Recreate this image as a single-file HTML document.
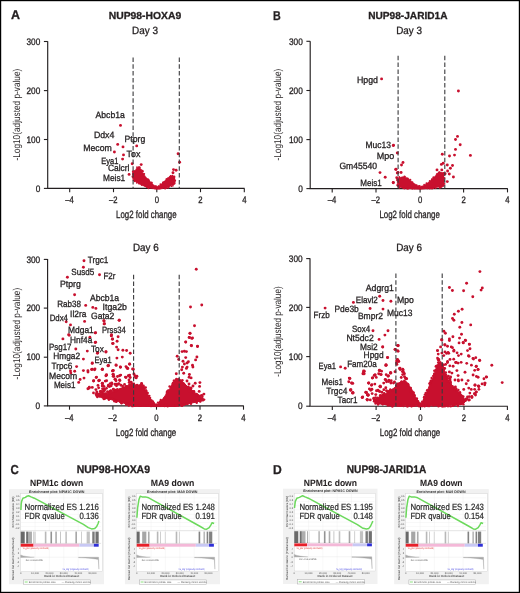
<!DOCTYPE html>
<html><head><meta charset="utf-8"><style>
html,body{margin:0;padding:0;background:#fff;}
body{width:520px;height:593px;overflow:hidden;position:relative;}
svg{position:absolute;left:0;top:0;will-change:transform;font-family:"Liberation Sans",sans-serif;text-rendering:geometricPrecision;}
</style></head><body>
<svg width="520" height="593" viewBox="0 0 520 593">
<rect x="0" y="0" width="520" height="593" fill="#fff"/>
<text x="11" y="19.3" font-size="12.9" text-anchor="start" font-weight="bold" fill="#231f20" stroke="#231f20" stroke-width="0.3" textLength="9" lengthAdjust="spacingAndGlyphs" >A</text>
<text x="273" y="19.5" font-size="12.9" text-anchor="start" font-weight="bold" fill="#231f20" stroke="#231f20" stroke-width="0.3" textLength="7.75" lengthAdjust="spacingAndGlyphs" >B</text>
<text x="10.5" y="473.75" font-size="12.9" text-anchor="start" font-weight="bold" fill="#231f20" stroke="#231f20" stroke-width="0.3" textLength="8.25" lengthAdjust="spacingAndGlyphs" >C</text>
<text x="273" y="473.75" font-size="12.9" text-anchor="start" font-weight="bold" fill="#231f20" stroke="#231f20" stroke-width="0.3" textLength="8.75" lengthAdjust="spacingAndGlyphs" >D</text>
<text x="108.75" y="18.75" font-size="10.2" text-anchor="start" font-weight="bold" fill="#231f20" stroke="#231f20" stroke-width="0.3" textLength="72.5" lengthAdjust="spacingAndGlyphs" >NUP98-HOXA9</text>
<text x="368.25" y="18.75" font-size="10.2" text-anchor="start" font-weight="bold" fill="#231f20" stroke="#231f20" stroke-width="0.3" textLength="79.25" lengthAdjust="spacingAndGlyphs" >NUP98-JARID1A</text>
<text x="132" y="33.6" font-size="10.5" text-anchor="start" font-weight="normal" fill="#231f20" stroke="#231f20" stroke-width="0.3" textLength="26" lengthAdjust="spacingAndGlyphs" >Day 3</text>
<text x="396.25" y="33.6" font-size="10.5" text-anchor="start" font-weight="normal" fill="#231f20" stroke="#231f20" stroke-width="0.3" textLength="25.75" lengthAdjust="spacingAndGlyphs" >Day 3</text>
<text x="132.9" y="251.4" font-size="10.5" text-anchor="start" font-weight="normal" fill="#231f20" stroke="#231f20" stroke-width="0.3" textLength="25.8" lengthAdjust="spacingAndGlyphs" >Day 6</text>
<text x="396.2" y="251.4" font-size="10.5" text-anchor="start" font-weight="normal" fill="#231f20" stroke="#231f20" stroke-width="0.3" textLength="25.8" lengthAdjust="spacingAndGlyphs" >Day 6</text>
<text x="76.75" y="473" font-size="10.9" text-anchor="start" font-weight="bold" fill="#231f20" stroke="#231f20" stroke-width="0.3" textLength="73.25" lengthAdjust="spacingAndGlyphs" >NUP98-HOXA9</text>
<text x="346.75" y="473" font-size="10.9" text-anchor="start" font-weight="bold" fill="#231f20" stroke="#231f20" stroke-width="0.3" textLength="79.5" lengthAdjust="spacingAndGlyphs" >NUP98-JARID1A</text>
<text x="30" y="485.5" font-size="9.1" text-anchor="start" font-weight="bold" fill="#231f20" stroke="#231f20" stroke-width="0.05" textLength="53.25" lengthAdjust="spacingAndGlyphs" >NPM1c down</text>
<text x="150.75" y="485.5" font-size="9.1" text-anchor="start" font-weight="bold" fill="#231f20" stroke="#231f20" stroke-width="0.05" textLength="43.5" lengthAdjust="spacingAndGlyphs" >MA9 down</text>
<text x="303.75" y="485.5" font-size="9.1" text-anchor="start" font-weight="bold" fill="#231f20" stroke="#231f20" stroke-width="0.05" textLength="53.25" lengthAdjust="spacingAndGlyphs" >NPM1c down</text>
<text x="420" y="485.5" font-size="9.1" text-anchor="start" font-weight="bold" fill="#231f20" stroke="#231f20" stroke-width="0.05" textLength="42.5" lengthAdjust="spacingAndGlyphs" >MA9 down</text>
<path d="M47.7,41.2 V188.4 H244.6" fill="none" stroke="#231f20" stroke-width="1.15"/>
<line x1="43.900000000000006" y1="41.5" x2="47.7" y2="41.5" stroke="#231f20" stroke-width="1.1"/>
<text x="40.3" y="44.7" font-size="9.45" text-anchor="end" font-weight="normal" fill="#231f20" stroke="#231f20" stroke-width="0.3" textLength="13.8" lengthAdjust="spacingAndGlyphs" >300</text>
<line x1="43.900000000000006" y1="90.6" x2="47.7" y2="90.6" stroke="#231f20" stroke-width="1.1"/>
<text x="40.3" y="93.8" font-size="9.45" text-anchor="end" font-weight="normal" fill="#231f20" stroke="#231f20" stroke-width="0.3" textLength="13.8" lengthAdjust="spacingAndGlyphs" >200</text>
<line x1="43.900000000000006" y1="139.5" x2="47.7" y2="139.5" stroke="#231f20" stroke-width="1.1"/>
<text x="40.3" y="142.7" font-size="9.45" text-anchor="end" font-weight="normal" fill="#231f20" stroke="#231f20" stroke-width="0.3" textLength="13.8" lengthAdjust="spacingAndGlyphs" >100</text>
<line x1="43.900000000000006" y1="188.4" x2="47.7" y2="188.4" stroke="#231f20" stroke-width="1.1"/>
<text x="40.3" y="191.6" font-size="9.45" text-anchor="end" font-weight="normal" fill="#231f20" stroke="#231f20" stroke-width="0.3" textLength="4.6" lengthAdjust="spacingAndGlyphs" >0</text>
<line x1="69.7" y1="188.4" x2="69.7" y2="192.20000000000002" stroke="#231f20" stroke-width="1.1"/>
<text x="65.25" y="203.0" font-size="9.45" text-anchor="start" font-weight="normal" fill="#231f20" stroke="#231f20" stroke-width="0.3" textLength="8.5" lengthAdjust="spacingAndGlyphs" >–4</text>
<line x1="113.5" y1="188.4" x2="113.5" y2="192.20000000000002" stroke="#231f20" stroke-width="1.1"/>
<text x="109.05" y="203.0" font-size="9.45" text-anchor="start" font-weight="normal" fill="#231f20" stroke="#231f20" stroke-width="0.3" textLength="8.5" lengthAdjust="spacingAndGlyphs" >–2</text>
<line x1="156.8" y1="188.4" x2="156.8" y2="192.20000000000002" stroke="#231f20" stroke-width="1.1"/>
<text x="154.65" y="203.0" font-size="9.45" text-anchor="start" font-weight="normal" fill="#231f20" stroke="#231f20" stroke-width="0.3" textLength="4.3" lengthAdjust="spacingAndGlyphs" >0</text>
<line x1="200.5" y1="188.4" x2="200.5" y2="192.20000000000002" stroke="#231f20" stroke-width="1.1"/>
<text x="198.35" y="203.0" font-size="9.45" text-anchor="start" font-weight="normal" fill="#231f20" stroke="#231f20" stroke-width="0.3" textLength="4.3" lengthAdjust="spacingAndGlyphs" >2</text>
<line x1="244.3" y1="188.4" x2="244.3" y2="192.20000000000002" stroke="#231f20" stroke-width="1.1"/>
<text x="242.15" y="203.0" font-size="9.45" text-anchor="start" font-weight="normal" fill="#231f20" stroke="#231f20" stroke-width="0.3" textLength="4.3" lengthAdjust="spacingAndGlyphs" >4</text>
<polygon points="132.8,173.9 134.3,171.7 136.5,168 138.6,167 140.7,168.6 141.7,171.7 143.9,173.9 146,177 149.2,180.2 153.4,184.4 156.6,186.8 159.7,185.2 164,181.3 168.2,177.6 170.3,175.5 172.4,176 174.5,177.6 175.6,180.2 175,184 168.2,187.5 159.7,189.4 156.6,189.6 149.2,188.2 140.7,185 134.3,181 132.8,178" fill="#c8102e" stroke="#c8102e" stroke-width="0.3" stroke-linejoin="round"/>
<circle cx="132.94" cy="173.34" r="0.85" fill="#c8102e"/>
<circle cx="134.50" cy="171.30" r="0.85" fill="#c8102e"/>
<circle cx="134.44" cy="171.02" r="0.85" fill="#c8102e"/>
<circle cx="136.98" cy="167.16" r="0.85" fill="#c8102e"/>
<circle cx="139.82" cy="167.30" r="0.85" fill="#c8102e"/>
<circle cx="141.05" cy="169.74" r="0.85" fill="#c8102e"/>
<circle cx="142.87" cy="173.45" r="0.85" fill="#c8102e"/>
<circle cx="144.36" cy="173.83" r="0.85" fill="#c8102e"/>
<circle cx="143.82" cy="174.16" r="0.85" fill="#c8102e"/>
<circle cx="148.29" cy="179.69" r="0.85" fill="#c8102e"/>
<circle cx="147.92" cy="179.09" r="0.85" fill="#c8102e"/>
<circle cx="149.02" cy="180.17" r="0.85" fill="#c8102e"/>
<circle cx="151.99" cy="182.87" r="0.85" fill="#c8102e"/>
<circle cx="151.61" cy="182.46" r="0.85" fill="#c8102e"/>
<circle cx="156.14" cy="186.05" r="0.85" fill="#c8102e"/>
<circle cx="155.26" cy="186.15" r="0.85" fill="#c8102e"/>
<circle cx="158.65" cy="186.11" r="0.85" fill="#c8102e"/>
<circle cx="156.88" cy="186.87" r="0.85" fill="#c8102e"/>
<circle cx="160.34" cy="184.15" r="0.85" fill="#c8102e"/>
<circle cx="162.84" cy="182.67" r="0.85" fill="#c8102e"/>
<circle cx="163.28" cy="181.98" r="0.85" fill="#c8102e"/>
<circle cx="166.58" cy="179.06" r="0.85" fill="#c8102e"/>
<circle cx="167.97" cy="178.17" r="0.85" fill="#c8102e"/>
<circle cx="166.35" cy="179.04" r="0.85" fill="#c8102e"/>
<circle cx="170.05" cy="176.56" r="0.85" fill="#c8102e"/>
<circle cx="170.78" cy="175.81" r="0.85" fill="#c8102e"/>
<circle cx="172.41" cy="175.70" r="0.85" fill="#c8102e"/>
<circle cx="174.19" cy="178.17" r="0.85" fill="#c8102e"/>
<circle cx="175.27" cy="180.58" r="0.85" fill="#c8102e"/>
<circle cx="174.66" cy="183.46" r="0.85" fill="#c8102e"/>
<circle cx="171.65" cy="186.24" r="0.85" fill="#c8102e"/>
<circle cx="168.90" cy="186.94" r="0.85" fill="#c8102e"/>
<circle cx="172.94" cy="185.71" r="0.85" fill="#c8102e"/>
<circle cx="173.65" cy="184.26" r="0.85" fill="#c8102e"/>
<circle cx="166.20" cy="188.03" r="0.85" fill="#c8102e"/>
<circle cx="165.47" cy="187.92" r="0.85" fill="#c8102e"/>
<circle cx="165.13" cy="188.65" r="0.85" fill="#c8102e"/>
<circle cx="162.35" cy="187.59" r="0.85" fill="#c8102e"/>
<circle cx="168.14" cy="187.88" r="0.85" fill="#c8102e"/>
<circle cx="157.29" cy="187.92" r="0.85" fill="#c8102e"/>
<circle cx="155.97" cy="188.32" r="0.85" fill="#c8102e"/>
<circle cx="154.72" cy="188.34" r="0.85" fill="#c8102e"/>
<circle cx="156.25" cy="187.96" r="0.85" fill="#c8102e"/>
<circle cx="156.79" cy="188.22" r="0.85" fill="#c8102e"/>
<circle cx="146.90" cy="187.26" r="0.85" fill="#c8102e"/>
<circle cx="148.50" cy="188.30" r="0.85" fill="#c8102e"/>
<circle cx="145.22" cy="186.29" r="0.85" fill="#c8102e"/>
<circle cx="148.17" cy="187.64" r="0.85" fill="#c8102e"/>
<circle cx="141.82" cy="185.07" r="0.85" fill="#c8102e"/>
<circle cx="134.64" cy="180.84" r="0.85" fill="#c8102e"/>
<circle cx="136.75" cy="182.86" r="0.85" fill="#c8102e"/>
<circle cx="134.80" cy="181.28" r="0.85" fill="#c8102e"/>
<circle cx="138.90" cy="183.62" r="0.85" fill="#c8102e"/>
<circle cx="133.17" cy="178.96" r="0.85" fill="#c8102e"/>
<circle cx="133.53" cy="180.32" r="0.85" fill="#c8102e"/>
<circle cx="133.15" cy="174.27" r="0.85" fill="#c8102e"/>
<circle cx="133.04" cy="174.37" r="0.85" fill="#c8102e"/>
<circle cx="120.5" cy="125.4" r="1.45" fill="#c8102e"/>
<circle cx="117.7" cy="144.4" r="1.45" fill="#c8102e"/>
<circle cx="123" cy="146.9" r="1.45" fill="#c8102e"/>
<circle cx="136.7" cy="145.9" r="1.45" fill="#c8102e"/>
<circle cx="114.4" cy="152" r="1.45" fill="#c8102e"/>
<circle cx="123.5" cy="154.9" r="1.45" fill="#c8102e"/>
<circle cx="122.6" cy="159.1" r="1.45" fill="#c8102e"/>
<circle cx="132.2" cy="163.8" r="1.45" fill="#c8102e"/>
<circle cx="141.2" cy="164.6" r="1.45" fill="#c8102e"/>
<circle cx="129.1" cy="174.4" r="1.45" fill="#c8102e"/>
<circle cx="133" cy="176.8" r="1.45" fill="#c8102e"/>
<circle cx="133.3" cy="171.7" r="1.45" fill="#c8102e"/>
<circle cx="142.3" cy="171.2" r="1.45" fill="#c8102e"/>
<circle cx="179.6" cy="162.2" r="1.45" fill="#c8102e"/>
<circle cx="173.5" cy="169.6" r="1.45" fill="#c8102e"/>
<circle cx="176.1" cy="170.2" r="1.45" fill="#c8102e"/>
<circle cx="173" cy="172.8" r="1.45" fill="#c8102e"/>
<circle cx="174" cy="177" r="1.45" fill="#c8102e"/>
<circle cx="178.1" cy="153.75" r="1.45" fill="#c8102e"/>
<circle cx="139" cy="167.75" r="1.45" fill="#c8102e"/>
<line x1="133.1" y1="57.5" x2="133.1" y2="188.4" stroke="#3a3a3c" stroke-width="1.1" stroke-dasharray="4.5 2.3"/>
<line x1="179.3" y1="57.5" x2="179.3" y2="188.4" stroke="#3a3a3c" stroke-width="1.1" stroke-dasharray="4.5 2.3"/>
<text x="116.1" y="217.7" font-size="10.6" text-anchor="start" font-weight="normal" fill="#231f20" stroke="#231f20" stroke-width="0.3" textLength="60.5" lengthAdjust="spacingAndGlyphs" >Log2 fold change</text>
<text transform="translate(19.9,114.6) rotate(-90)" x="0" y="0" font-size="10" text-anchor="middle" fill="#231f20" textLength="91.8" lengthAdjust="spacingAndGlyphs">-Log10(adjusted p-value)</text>
<text x="95.5" y="117.6" font-size="9.15" text-anchor="start" font-weight="normal" fill="#231f20" stroke="#231f20" stroke-width="0.3" textLength="29.3" lengthAdjust="spacingAndGlyphs" >Abcb1a</text>
<text x="93.9" y="138" font-size="9.15" text-anchor="start" font-weight="normal" fill="#231f20" stroke="#231f20" stroke-width="0.3" textLength="20.5" lengthAdjust="spacingAndGlyphs" >Ddx4</text>
<text x="124.5" y="142" font-size="9.15" text-anchor="start" font-weight="normal" fill="#231f20" stroke="#231f20" stroke-width="0.3" textLength="20.8" lengthAdjust="spacingAndGlyphs" >Ptprg</text>
<text x="83.2" y="150.9" font-size="9.15" text-anchor="start" font-weight="normal" fill="#231f20" stroke="#231f20" stroke-width="0.3" textLength="28.6" lengthAdjust="spacingAndGlyphs" >Mecom</text>
<text x="126.6" y="157.4" font-size="9.15" text-anchor="start" font-weight="normal" fill="#231f20" stroke="#231f20" stroke-width="0.3" textLength="13.9" lengthAdjust="spacingAndGlyphs" >Tox</text>
<text x="101.2" y="163.8" font-size="9.15" text-anchor="start" font-weight="normal" fill="#231f20" stroke="#231f20" stroke-width="0.3" textLength="17.2" lengthAdjust="spacingAndGlyphs" >Eya1</text>
<text x="108" y="171" font-size="9.15" text-anchor="start" font-weight="normal" fill="#231f20" stroke="#231f20" stroke-width="0.3" textLength="21.5" lengthAdjust="spacingAndGlyphs" >Calcrl</text>
<text x="103" y="180.6" font-size="9.15" text-anchor="start" font-weight="normal" fill="#231f20" stroke="#231f20" stroke-width="0.3" textLength="22.2" lengthAdjust="spacingAndGlyphs" >Meis1</text>
<path d="M310.2,41.2 V188.6 H507.8" fill="none" stroke="#231f20" stroke-width="1.15"/>
<line x1="306.4" y1="41.3" x2="310.2" y2="41.3" stroke="#231f20" stroke-width="1.1"/>
<text x="302.8" y="44.5" font-size="9.45" text-anchor="end" font-weight="normal" fill="#231f20" stroke="#231f20" stroke-width="0.3" textLength="13.8" lengthAdjust="spacingAndGlyphs" >300</text>
<line x1="306.4" y1="90.5" x2="310.2" y2="90.5" stroke="#231f20" stroke-width="1.1"/>
<text x="302.8" y="93.7" font-size="9.45" text-anchor="end" font-weight="normal" fill="#231f20" stroke="#231f20" stroke-width="0.3" textLength="13.8" lengthAdjust="spacingAndGlyphs" >200</text>
<line x1="306.4" y1="139.6" x2="310.2" y2="139.6" stroke="#231f20" stroke-width="1.1"/>
<text x="302.8" y="142.8" font-size="9.45" text-anchor="end" font-weight="normal" fill="#231f20" stroke="#231f20" stroke-width="0.3" textLength="13.8" lengthAdjust="spacingAndGlyphs" >100</text>
<line x1="306.4" y1="188.6" x2="310.2" y2="188.6" stroke="#231f20" stroke-width="1.1"/>
<text x="302.8" y="191.8" font-size="9.45" text-anchor="end" font-weight="normal" fill="#231f20" stroke="#231f20" stroke-width="0.3" textLength="4.6" lengthAdjust="spacingAndGlyphs" >0</text>
<line x1="332.2" y1="188.6" x2="332.2" y2="192.4" stroke="#231f20" stroke-width="1.1"/>
<text x="327.75" y="203.2" font-size="9.45" text-anchor="start" font-weight="normal" fill="#231f20" stroke="#231f20" stroke-width="0.3" textLength="8.5" lengthAdjust="spacingAndGlyphs" >–4</text>
<line x1="376.0" y1="188.6" x2="376.0" y2="192.4" stroke="#231f20" stroke-width="1.1"/>
<text x="371.55" y="203.2" font-size="9.45" text-anchor="start" font-weight="normal" fill="#231f20" stroke="#231f20" stroke-width="0.3" textLength="8.5" lengthAdjust="spacingAndGlyphs" >–2</text>
<line x1="420.1" y1="188.6" x2="420.1" y2="192.4" stroke="#231f20" stroke-width="1.1"/>
<text x="417.95" y="203.2" font-size="9.45" text-anchor="start" font-weight="normal" fill="#231f20" stroke="#231f20" stroke-width="0.3" textLength="4.3" lengthAdjust="spacingAndGlyphs" >0</text>
<line x1="463.6" y1="188.6" x2="463.6" y2="192.4" stroke="#231f20" stroke-width="1.1"/>
<text x="461.45" y="203.2" font-size="9.45" text-anchor="start" font-weight="normal" fill="#231f20" stroke="#231f20" stroke-width="0.3" textLength="4.3" lengthAdjust="spacingAndGlyphs" >2</text>
<line x1="507.5" y1="188.6" x2="507.5" y2="192.4" stroke="#231f20" stroke-width="1.1"/>
<text x="505.35" y="203.2" font-size="9.45" text-anchor="start" font-weight="normal" fill="#231f20" stroke="#231f20" stroke-width="0.3" textLength="4.3" lengthAdjust="spacingAndGlyphs" >4</text>
<polygon points="397,180 399,177.5 403,176.4 407,177.5 410,179.8 412.5,182 415,183.8 417.5,185.4 420,186.2 422.5,185.7 425,184.4 427.5,182.7 430,180.7 433,177.9 435.4,175.4 437,173.2 440,171.7 443.5,173.2 444.5,180 444,186.5 432,188.6 420,189.5 405,188.8 397.5,187" fill="#c8102e" stroke="#c8102e" stroke-width="0.3" stroke-linejoin="round"/>
<circle cx="397.30" cy="179.34" r="0.85" fill="#c8102e"/>
<circle cx="399.33" cy="177.29" r="0.85" fill="#c8102e"/>
<circle cx="399.24" cy="176.97" r="0.85" fill="#c8102e"/>
<circle cx="404.30" cy="176.47" r="0.85" fill="#c8102e"/>
<circle cx="405.02" cy="176.49" r="0.85" fill="#c8102e"/>
<circle cx="407.80" cy="178.46" r="0.85" fill="#c8102e"/>
<circle cx="408.63" cy="179.30" r="0.85" fill="#c8102e"/>
<circle cx="410.47" cy="179.69" r="0.85" fill="#c8102e"/>
<circle cx="412.48" cy="182.07" r="0.85" fill="#c8102e"/>
<circle cx="416.72" cy="185.19" r="0.85" fill="#c8102e"/>
<circle cx="418.97" cy="185.96" r="0.85" fill="#c8102e"/>
<circle cx="419.72" cy="185.87" r="0.85" fill="#c8102e"/>
<circle cx="424.13" cy="184.63" r="0.85" fill="#c8102e"/>
<circle cx="426.42" cy="183.20" r="0.85" fill="#c8102e"/>
<circle cx="429.68" cy="180.86" r="0.85" fill="#c8102e"/>
<circle cx="431.75" cy="179.47" r="0.85" fill="#c8102e"/>
<circle cx="431.98" cy="179.14" r="0.85" fill="#c8102e"/>
<circle cx="433.20" cy="177.86" r="0.85" fill="#c8102e"/>
<circle cx="433.35" cy="177.06" r="0.85" fill="#c8102e"/>
<circle cx="436.73" cy="174.00" r="0.85" fill="#c8102e"/>
<circle cx="439.44" cy="172.08" r="0.85" fill="#c8102e"/>
<circle cx="438.86" cy="172.26" r="0.85" fill="#c8102e"/>
<circle cx="443.38" cy="172.93" r="0.85" fill="#c8102e"/>
<circle cx="441.89" cy="172.90" r="0.85" fill="#c8102e"/>
<circle cx="444.64" cy="177.92" r="0.85" fill="#c8102e"/>
<circle cx="443.67" cy="175.30" r="0.85" fill="#c8102e"/>
<circle cx="443.48" cy="173.02" r="0.85" fill="#c8102e"/>
<circle cx="443.18" cy="174.26" r="0.85" fill="#c8102e"/>
<circle cx="444.18" cy="180.73" r="0.85" fill="#c8102e"/>
<circle cx="443.64" cy="185.61" r="0.85" fill="#c8102e"/>
<circle cx="444.61" cy="183.89" r="0.85" fill="#c8102e"/>
<circle cx="433.41" cy="188.23" r="0.85" fill="#c8102e"/>
<circle cx="440.08" cy="187.71" r="0.85" fill="#c8102e"/>
<circle cx="441.87" cy="186.55" r="0.85" fill="#c8102e"/>
<circle cx="441.18" cy="187.08" r="0.85" fill="#c8102e"/>
<circle cx="440.35" cy="186.97" r="0.85" fill="#c8102e"/>
<circle cx="439.64" cy="187.73" r="0.85" fill="#c8102e"/>
<circle cx="435.73" cy="188.07" r="0.85" fill="#c8102e"/>
<circle cx="423.44" cy="187.66" r="0.85" fill="#c8102e"/>
<circle cx="421.80" cy="188.12" r="0.85" fill="#c8102e"/>
<circle cx="430.89" cy="188.26" r="0.85" fill="#c8102e"/>
<circle cx="430.90" cy="188.32" r="0.85" fill="#c8102e"/>
<circle cx="427.47" cy="188.41" r="0.85" fill="#c8102e"/>
<circle cx="429.79" cy="188.60" r="0.85" fill="#c8102e"/>
<circle cx="432.07" cy="188.74" r="0.85" fill="#c8102e"/>
<circle cx="417.52" cy="188.16" r="0.85" fill="#c8102e"/>
<circle cx="418.51" cy="188.04" r="0.85" fill="#c8102e"/>
<circle cx="412.33" cy="188.76" r="0.85" fill="#c8102e"/>
<circle cx="414.63" cy="188.41" r="0.85" fill="#c8102e"/>
<circle cx="420.10" cy="188.42" r="0.85" fill="#c8102e"/>
<circle cx="411.38" cy="187.43" r="0.85" fill="#c8102e"/>
<circle cx="407.25" cy="188.66" r="0.85" fill="#c8102e"/>
<circle cx="414.17" cy="187.96" r="0.85" fill="#c8102e"/>
<circle cx="408.14" cy="188.68" r="0.85" fill="#c8102e"/>
<circle cx="399.40" cy="187.69" r="0.85" fill="#c8102e"/>
<circle cx="399.27" cy="187.59" r="0.85" fill="#c8102e"/>
<circle cx="403.32" cy="188.25" r="0.85" fill="#c8102e"/>
<circle cx="404.31" cy="188.53" r="0.85" fill="#c8102e"/>
<circle cx="397.56" cy="185.64" r="0.85" fill="#c8102e"/>
<circle cx="397.71" cy="184.36" r="0.85" fill="#c8102e"/>
<circle cx="396.89" cy="180.04" r="0.85" fill="#c8102e"/>
<circle cx="397.08" cy="185.12" r="0.85" fill="#c8102e"/>
<circle cx="381.6" cy="78.9" r="1.45" fill="#c8102e"/>
<circle cx="393.5" cy="145.3" r="1.45" fill="#c8102e"/>
<circle cx="397.3" cy="153" r="1.45" fill="#c8102e"/>
<circle cx="380" cy="172.6" r="1.45" fill="#c8102e"/>
<circle cx="385.2" cy="177.3" r="1.45" fill="#c8102e"/>
<circle cx="396" cy="169.2" r="1.45" fill="#c8102e"/>
<circle cx="397.3" cy="173" r="1.45" fill="#c8102e"/>
<circle cx="393.3" cy="182.8" r="1.45" fill="#c8102e"/>
<circle cx="393.25" cy="145.6" r="1.45" fill="#c8102e"/>
<circle cx="403" cy="162.5" r="1.45" fill="#c8102e"/>
<circle cx="401.5" cy="165" r="1.45" fill="#c8102e"/>
<circle cx="395.75" cy="169.4" r="1.45" fill="#c8102e"/>
<circle cx="398" cy="172.5" r="1.45" fill="#c8102e"/>
<circle cx="401.1" cy="172.5" r="1.45" fill="#c8102e"/>
<circle cx="396.75" cy="177.75" r="1.45" fill="#c8102e"/>
<circle cx="393.25" cy="182.5" r="1.45" fill="#c8102e"/>
<circle cx="458.4" cy="91" r="1.45" fill="#c8102e"/>
<circle cx="457.5" cy="136.4" r="1.45" fill="#c8102e"/>
<circle cx="455.5" cy="139.5" r="1.45" fill="#c8102e"/>
<circle cx="460.2" cy="144.7" r="1.45" fill="#c8102e"/>
<circle cx="455.5" cy="149.4" r="1.45" fill="#c8102e"/>
<circle cx="442.3" cy="154.2" r="1.45" fill="#c8102e"/>
<circle cx="449.5" cy="156" r="1.45" fill="#c8102e"/>
<circle cx="454.5" cy="155.1" r="1.45" fill="#c8102e"/>
<circle cx="470.4" cy="155.4" r="1.45" fill="#c8102e"/>
<circle cx="441.4" cy="164.4" r="1.45" fill="#c8102e"/>
<circle cx="443.2" cy="163.3" r="1.45" fill="#c8102e"/>
<circle cx="447.3" cy="165" r="1.45" fill="#c8102e"/>
<circle cx="452.5" cy="165.5" r="1.45" fill="#c8102e"/>
<circle cx="450.4" cy="168.2" r="1.45" fill="#c8102e"/>
<circle cx="441.8" cy="169.9" r="1.45" fill="#c8102e"/>
<circle cx="447.6" cy="171" r="1.45" fill="#c8102e"/>
<circle cx="449.3" cy="174" r="1.45" fill="#c8102e"/>
<circle cx="445.1" cy="173.7" r="1.45" fill="#c8102e"/>
<circle cx="453.4" cy="177" r="1.45" fill="#c8102e"/>
<circle cx="447.3" cy="181.6" r="1.45" fill="#c8102e"/>
<circle cx="437" cy="169.9" r="1.45" fill="#c8102e"/>
<line x1="398.1" y1="55.8" x2="398.1" y2="188.6" stroke="#3a3a3c" stroke-width="1.1" stroke-dasharray="4.5 2.3"/>
<line x1="444.8" y1="55.8" x2="444.8" y2="188.6" stroke="#3a3a3c" stroke-width="1.1" stroke-dasharray="4.5 2.3"/>
<text x="379.4" y="217.7" font-size="10.6" text-anchor="start" font-weight="normal" fill="#231f20" stroke="#231f20" stroke-width="0.3" textLength="60.5" lengthAdjust="spacingAndGlyphs" >Log2 fold change</text>
<text transform="translate(281.4,114.6) rotate(-90)" x="0" y="0" font-size="10" text-anchor="middle" fill="#231f20" textLength="91.8" lengthAdjust="spacingAndGlyphs">-Log10(adjusted p-value)</text>
<text x="356.9" y="83.4" font-size="9.15" text-anchor="start" font-weight="normal" fill="#231f20" stroke="#231f20" stroke-width="0.3" textLength="21.1" lengthAdjust="spacingAndGlyphs" >Hpgd</text>
<text x="365.5" y="147.9" font-size="9.15" text-anchor="start" font-weight="normal" fill="#231f20" stroke="#231f20" stroke-width="0.3" textLength="25.5" lengthAdjust="spacingAndGlyphs" >Muc13</text>
<text x="376.8" y="159.4" font-size="9.15" text-anchor="start" font-weight="normal" fill="#231f20" stroke="#231f20" stroke-width="0.3" textLength="17.5" lengthAdjust="spacingAndGlyphs" >Mpo</text>
<text x="339.4" y="169.3" font-size="9.15" text-anchor="start" font-weight="normal" fill="#231f20" stroke="#231f20" stroke-width="0.3" textLength="37.7" lengthAdjust="spacingAndGlyphs" >Gm45540</text>
<text x="360.3" y="185.5" font-size="9.15" text-anchor="start" font-weight="normal" fill="#231f20" stroke="#231f20" stroke-width="0.3" textLength="21.5" lengthAdjust="spacingAndGlyphs" >Meis1</text>
<path d="M47.6,259.1 V405.9 H243.8" fill="none" stroke="#231f20" stroke-width="1.15"/>
<line x1="43.800000000000004" y1="259.4" x2="47.6" y2="259.4" stroke="#231f20" stroke-width="1.1"/>
<text x="40.2" y="262.6" font-size="9.45" text-anchor="end" font-weight="normal" fill="#231f20" stroke="#231f20" stroke-width="0.3" textLength="13.8" lengthAdjust="spacingAndGlyphs" >300</text>
<line x1="43.800000000000004" y1="308.1" x2="47.6" y2="308.1" stroke="#231f20" stroke-width="1.1"/>
<text x="40.2" y="311.3" font-size="9.45" text-anchor="end" font-weight="normal" fill="#231f20" stroke="#231f20" stroke-width="0.3" textLength="13.8" lengthAdjust="spacingAndGlyphs" >200</text>
<line x1="43.800000000000004" y1="357.2" x2="47.6" y2="357.2" stroke="#231f20" stroke-width="1.1"/>
<text x="40.2" y="360.4" font-size="9.45" text-anchor="end" font-weight="normal" fill="#231f20" stroke="#231f20" stroke-width="0.3" textLength="13.8" lengthAdjust="spacingAndGlyphs" >100</text>
<line x1="43.800000000000004" y1="405.9" x2="47.6" y2="405.9" stroke="#231f20" stroke-width="1.1"/>
<text x="40.2" y="409.1" font-size="9.45" text-anchor="end" font-weight="normal" fill="#231f20" stroke="#231f20" stroke-width="0.3" textLength="4.6" lengthAdjust="spacingAndGlyphs" >0</text>
<line x1="69.5" y1="405.9" x2="69.5" y2="409.7" stroke="#231f20" stroke-width="1.1"/>
<text x="65.05" y="420.5" font-size="9.45" text-anchor="start" font-weight="normal" fill="#231f20" stroke="#231f20" stroke-width="0.3" textLength="8.5" lengthAdjust="spacingAndGlyphs" >–4</text>
<line x1="112.9" y1="405.9" x2="112.9" y2="409.7" stroke="#231f20" stroke-width="1.1"/>
<text x="108.45" y="420.5" font-size="9.45" text-anchor="start" font-weight="normal" fill="#231f20" stroke="#231f20" stroke-width="0.3" textLength="8.5" lengthAdjust="spacingAndGlyphs" >–2</text>
<line x1="156.5" y1="405.9" x2="156.5" y2="409.7" stroke="#231f20" stroke-width="1.1"/>
<text x="154.35" y="420.5" font-size="9.45" text-anchor="start" font-weight="normal" fill="#231f20" stroke="#231f20" stroke-width="0.3" textLength="4.3" lengthAdjust="spacingAndGlyphs" >0</text>
<line x1="200.0" y1="405.9" x2="200.0" y2="409.7" stroke="#231f20" stroke-width="1.1"/>
<text x="197.85" y="420.5" font-size="9.45" text-anchor="start" font-weight="normal" fill="#231f20" stroke="#231f20" stroke-width="0.3" textLength="4.3" lengthAdjust="spacingAndGlyphs" >2</text>
<line x1="243.5" y1="405.9" x2="243.5" y2="409.7" stroke="#231f20" stroke-width="1.1"/>
<text x="241.35" y="420.5" font-size="9.45" text-anchor="start" font-weight="normal" fill="#231f20" stroke="#231f20" stroke-width="0.3" textLength="4.3" lengthAdjust="spacingAndGlyphs" >4</text>
<polygon points="96,394 109,393 118.8,389 126,387 132,385.5 138.5,385 142.5,386 146,391 149.5,397.5 153,402.5 156.5,405.2 160,402.5 164,397.5 168,391 172.5,385 175,380.5 176,379 179,379 184,383 190.8,390 200.6,396.5 203.5,398.5 200,401 190,403.5 180,405.8 176,406.4 156,406.6 134,406.3 120,402 105,398 96,396" fill="#c8102e" stroke="#c8102e" stroke-width="1.0" stroke-linejoin="round"/>
<circle cx="99.37" cy="394.04" r="1.2" fill="#c8102e"/>
<circle cx="97.03" cy="393.61" r="1.2" fill="#c8102e"/>
<circle cx="96.77" cy="392.83" r="1.2" fill="#c8102e"/>
<circle cx="100.61" cy="392.58" r="1.2" fill="#c8102e"/>
<circle cx="102.30" cy="392.67" r="1.2" fill="#c8102e"/>
<circle cx="99.21" cy="394.85" r="1.2" fill="#c8102e"/>
<circle cx="103.25" cy="394.57" r="1.2" fill="#c8102e"/>
<circle cx="97.47" cy="393.45" r="1.2" fill="#c8102e"/>
<circle cx="96.96" cy="393.40" r="1.2" fill="#c8102e"/>
<circle cx="105.84" cy="393.38" r="1.2" fill="#c8102e"/>
<circle cx="104.00" cy="393.48" r="1.2" fill="#c8102e"/>
<circle cx="108.56" cy="392.04" r="1.2" fill="#c8102e"/>
<circle cx="115.49" cy="389.83" r="1.2" fill="#c8102e"/>
<circle cx="114.63" cy="390.18" r="1.2" fill="#c8102e"/>
<circle cx="117.26" cy="389.21" r="1.2" fill="#c8102e"/>
<circle cx="114.69" cy="391.60" r="1.2" fill="#c8102e"/>
<circle cx="115.64" cy="391.23" r="1.2" fill="#c8102e"/>
<circle cx="109.96" cy="393.14" r="1.2" fill="#c8102e"/>
<circle cx="110.46" cy="391.29" r="1.2" fill="#c8102e"/>
<circle cx="116.18" cy="390.50" r="1.2" fill="#c8102e"/>
<circle cx="124.66" cy="387.72" r="1.2" fill="#c8102e"/>
<circle cx="123.27" cy="387.71" r="1.2" fill="#c8102e"/>
<circle cx="125.92" cy="387.26" r="1.2" fill="#c8102e"/>
<circle cx="122.53" cy="388.16" r="1.2" fill="#c8102e"/>
<circle cx="124.64" cy="388.48" r="1.2" fill="#c8102e"/>
<circle cx="120.57" cy="388.84" r="1.2" fill="#c8102e"/>
<circle cx="126.04" cy="386.17" r="1.2" fill="#c8102e"/>
<circle cx="125.64" cy="387.47" r="1.2" fill="#c8102e"/>
<circle cx="126.17" cy="386.54" r="1.2" fill="#c8102e"/>
<circle cx="130.22" cy="385.57" r="1.2" fill="#c8102e"/>
<circle cx="130.22" cy="386.94" r="1.2" fill="#c8102e"/>
<circle cx="137.08" cy="384.86" r="1.2" fill="#c8102e"/>
<circle cx="135.25" cy="386.42" r="1.2" fill="#c8102e"/>
<circle cx="132.20" cy="384.78" r="1.2" fill="#c8102e"/>
<circle cx="133.48" cy="385.60" r="1.2" fill="#c8102e"/>
<circle cx="132.52" cy="385.17" r="1.2" fill="#c8102e"/>
<circle cx="140.14" cy="386.46" r="1.2" fill="#c8102e"/>
<circle cx="141.30" cy="385.97" r="1.2" fill="#c8102e"/>
<circle cx="140.13" cy="386.64" r="1.2" fill="#c8102e"/>
<circle cx="146.13" cy="390.61" r="1.2" fill="#c8102e"/>
<circle cx="143.63" cy="387.01" r="1.2" fill="#c8102e"/>
<circle cx="143.67" cy="388.13" r="1.2" fill="#c8102e"/>
<circle cx="142.42" cy="386.66" r="1.2" fill="#c8102e"/>
<circle cx="141.48" cy="385.43" r="1.2" fill="#c8102e"/>
<circle cx="146.03" cy="390.52" r="1.2" fill="#c8102e"/>
<circle cx="149.33" cy="395.84" r="1.2" fill="#c8102e"/>
<circle cx="146.52" cy="392.31" r="1.2" fill="#c8102e"/>
<circle cx="147.27" cy="392.98" r="1.2" fill="#c8102e"/>
<circle cx="147.59" cy="393.04" r="1.2" fill="#c8102e"/>
<circle cx="145.98" cy="391.10" r="1.2" fill="#c8102e"/>
<circle cx="151.59" cy="400.50" r="1.2" fill="#c8102e"/>
<circle cx="152.90" cy="401.41" r="1.2" fill="#c8102e"/>
<circle cx="150.27" cy="400.28" r="1.2" fill="#c8102e"/>
<circle cx="153.80" cy="402.86" r="1.2" fill="#c8102e"/>
<circle cx="150.09" cy="398.01" r="1.2" fill="#c8102e"/>
<circle cx="155.78" cy="405.25" r="1.2" fill="#c8102e"/>
<circle cx="153.49" cy="404.14" r="1.2" fill="#c8102e"/>
<circle cx="157.29" cy="405.89" r="1.2" fill="#c8102e"/>
<circle cx="159.94" cy="402.33" r="1.2" fill="#c8102e"/>
<circle cx="157.97" cy="402.67" r="1.2" fill="#c8102e"/>
<circle cx="156.07" cy="404.55" r="1.2" fill="#c8102e"/>
<circle cx="163.87" cy="398.91" r="1.2" fill="#c8102e"/>
<circle cx="164.92" cy="398.91" r="1.2" fill="#c8102e"/>
<circle cx="160.79" cy="400.02" r="1.2" fill="#c8102e"/>
<circle cx="160.08" cy="401.81" r="1.2" fill="#c8102e"/>
<circle cx="164.42" cy="397.95" r="1.2" fill="#c8102e"/>
<circle cx="167.33" cy="392.26" r="1.2" fill="#c8102e"/>
<circle cx="167.63" cy="393.88" r="1.2" fill="#c8102e"/>
<circle cx="166.95" cy="391.85" r="1.2" fill="#c8102e"/>
<circle cx="166.75" cy="393.09" r="1.2" fill="#c8102e"/>
<circle cx="167.64" cy="390.95" r="1.2" fill="#c8102e"/>
<circle cx="168.33" cy="390.55" r="1.2" fill="#c8102e"/>
<circle cx="167.73" cy="391.21" r="1.2" fill="#c8102e"/>
<circle cx="170.78" cy="386.94" r="1.2" fill="#c8102e"/>
<circle cx="172.79" cy="384.76" r="1.2" fill="#c8102e"/>
<circle cx="169.58" cy="386.54" r="1.2" fill="#c8102e"/>
<circle cx="172.73" cy="385.24" r="1.2" fill="#c8102e"/>
<circle cx="172.04" cy="386.29" r="1.2" fill="#c8102e"/>
<circle cx="173.87" cy="380.69" r="1.2" fill="#c8102e"/>
<circle cx="172.61" cy="383.89" r="1.2" fill="#c8102e"/>
<circle cx="172.95" cy="382.95" r="1.2" fill="#c8102e"/>
<circle cx="174.42" cy="380.80" r="1.2" fill="#c8102e"/>
<circle cx="176.55" cy="379.43" r="1.2" fill="#c8102e"/>
<circle cx="178.76" cy="379.08" r="1.2" fill="#c8102e"/>
<circle cx="176.42" cy="378.86" r="1.2" fill="#c8102e"/>
<circle cx="178.72" cy="380.45" r="1.2" fill="#c8102e"/>
<circle cx="179.80" cy="380.23" r="1.2" fill="#c8102e"/>
<circle cx="181.36" cy="381.27" r="1.2" fill="#c8102e"/>
<circle cx="182.46" cy="380.28" r="1.2" fill="#c8102e"/>
<circle cx="181.20" cy="380.71" r="1.2" fill="#c8102e"/>
<circle cx="189.27" cy="388.55" r="1.2" fill="#c8102e"/>
<circle cx="190.16" cy="388.18" r="1.2" fill="#c8102e"/>
<circle cx="188.18" cy="387.32" r="1.2" fill="#c8102e"/>
<circle cx="188.60" cy="387.93" r="1.2" fill="#c8102e"/>
<circle cx="188.31" cy="386.82" r="1.2" fill="#c8102e"/>
<circle cx="191.02" cy="388.56" r="1.2" fill="#c8102e"/>
<circle cx="188.87" cy="387.73" r="1.2" fill="#c8102e"/>
<circle cx="184.02" cy="383.82" r="1.2" fill="#c8102e"/>
<circle cx="190.89" cy="389.45" r="1.2" fill="#c8102e"/>
<circle cx="198.04" cy="395.30" r="1.2" fill="#c8102e"/>
<circle cx="192.83" cy="391.39" r="1.2" fill="#c8102e"/>
<circle cx="193.12" cy="392.05" r="1.2" fill="#c8102e"/>
<circle cx="194.04" cy="391.18" r="1.2" fill="#c8102e"/>
<circle cx="196.75" cy="393.97" r="1.2" fill="#c8102e"/>
<circle cx="192.22" cy="391.09" r="1.2" fill="#c8102e"/>
<circle cx="193.39" cy="391.77" r="1.2" fill="#c8102e"/>
<circle cx="196.72" cy="394.82" r="1.2" fill="#c8102e"/>
<circle cx="193.96" cy="392.46" r="1.2" fill="#c8102e"/>
<circle cx="202.44" cy="396.70" r="1.2" fill="#c8102e"/>
<circle cx="204.15" cy="399.60" r="1.2" fill="#c8102e"/>
<circle cx="200.34" cy="395.60" r="1.2" fill="#c8102e"/>
<circle cx="200.22" cy="399.56" r="1.2" fill="#c8102e"/>
<circle cx="203.01" cy="400.32" r="1.2" fill="#c8102e"/>
<circle cx="201.75" cy="400.15" r="1.2" fill="#c8102e"/>
<circle cx="194.78" cy="401.44" r="1.2" fill="#c8102e"/>
<circle cx="199.88" cy="400.96" r="1.2" fill="#c8102e"/>
<circle cx="200.33" cy="401.50" r="1.2" fill="#c8102e"/>
<circle cx="190.98" cy="403.86" r="1.2" fill="#c8102e"/>
<circle cx="200.20" cy="401.06" r="1.2" fill="#c8102e"/>
<circle cx="196.74" cy="402.87" r="1.2" fill="#c8102e"/>
<circle cx="196.43" cy="401.73" r="1.2" fill="#c8102e"/>
<circle cx="196.68" cy="400.78" r="1.2" fill="#c8102e"/>
<circle cx="198.78" cy="400.67" r="1.2" fill="#c8102e"/>
<circle cx="187.57" cy="403.70" r="1.2" fill="#c8102e"/>
<circle cx="184.23" cy="404.28" r="1.2" fill="#c8102e"/>
<circle cx="189.22" cy="402.38" r="1.2" fill="#c8102e"/>
<circle cx="182.79" cy="404.44" r="1.2" fill="#c8102e"/>
<circle cx="186.30" cy="403.65" r="1.2" fill="#c8102e"/>
<circle cx="181.65" cy="405.37" r="1.2" fill="#c8102e"/>
<circle cx="181.40" cy="405.44" r="1.2" fill="#c8102e"/>
<circle cx="184.28" cy="404.70" r="1.2" fill="#c8102e"/>
<circle cx="182.17" cy="405.74" r="1.2" fill="#c8102e"/>
<circle cx="178.02" cy="404.97" r="1.2" fill="#c8102e"/>
<circle cx="178.45" cy="405.59" r="1.2" fill="#c8102e"/>
<circle cx="178.35" cy="404.86" r="1.2" fill="#c8102e"/>
<circle cx="162.07" cy="405.92" r="1.2" fill="#c8102e"/>
<circle cx="170.04" cy="405.64" r="1.2" fill="#c8102e"/>
<circle cx="166.52" cy="404.73" r="1.2" fill="#c8102e"/>
<circle cx="164.45" cy="405.53" r="1.2" fill="#c8102e"/>
<circle cx="167.67" cy="406.19" r="1.2" fill="#c8102e"/>
<circle cx="166.51" cy="405.78" r="1.2" fill="#c8102e"/>
<circle cx="164.72" cy="405.93" r="1.2" fill="#c8102e"/>
<circle cx="173.96" cy="405.32" r="1.2" fill="#c8102e"/>
<circle cx="175.08" cy="405.76" r="1.2" fill="#c8102e"/>
<circle cx="164.36" cy="405.11" r="1.2" fill="#c8102e"/>
<circle cx="162.59" cy="405.51" r="1.2" fill="#c8102e"/>
<circle cx="155.46" cy="405.13" r="1.2" fill="#c8102e"/>
<circle cx="175.93" cy="405.15" r="1.2" fill="#c8102e"/>
<circle cx="162.07" cy="405.68" r="1.2" fill="#c8102e"/>
<circle cx="165.54" cy="404.93" r="1.2" fill="#c8102e"/>
<circle cx="159.67" cy="405.08" r="1.2" fill="#c8102e"/>
<circle cx="161.49" cy="405.41" r="1.2" fill="#c8102e"/>
<circle cx="173.00" cy="405.48" r="1.2" fill="#c8102e"/>
<circle cx="137.75" cy="405.15" r="1.2" fill="#c8102e"/>
<circle cx="141.00" cy="405.20" r="1.2" fill="#c8102e"/>
<circle cx="139.05" cy="405.26" r="1.2" fill="#c8102e"/>
<circle cx="140.45" cy="405.60" r="1.2" fill="#c8102e"/>
<circle cx="153.80" cy="405.65" r="1.2" fill="#c8102e"/>
<circle cx="140.87" cy="405.44" r="1.2" fill="#c8102e"/>
<circle cx="145.90" cy="405.16" r="1.2" fill="#c8102e"/>
<circle cx="140.85" cy="405.56" r="1.2" fill="#c8102e"/>
<circle cx="151.00" cy="406.05" r="1.2" fill="#c8102e"/>
<circle cx="142.34" cy="405.38" r="1.2" fill="#c8102e"/>
<circle cx="150.50" cy="405.09" r="1.2" fill="#c8102e"/>
<circle cx="149.64" cy="405.34" r="1.2" fill="#c8102e"/>
<circle cx="154.34" cy="405.84" r="1.2" fill="#c8102e"/>
<circle cx="135.53" cy="405.15" r="1.2" fill="#c8102e"/>
<circle cx="146.67" cy="405.36" r="1.2" fill="#c8102e"/>
<circle cx="149.39" cy="405.65" r="1.2" fill="#c8102e"/>
<circle cx="142.35" cy="404.76" r="1.2" fill="#c8102e"/>
<circle cx="153.85" cy="404.84" r="1.2" fill="#c8102e"/>
<circle cx="139.88" cy="405.32" r="1.2" fill="#c8102e"/>
<circle cx="132.46" cy="406.17" r="1.2" fill="#c8102e"/>
<circle cx="127.21" cy="403.50" r="1.2" fill="#c8102e"/>
<circle cx="128.74" cy="405.64" r="1.2" fill="#c8102e"/>
<circle cx="134.58" cy="405.76" r="1.2" fill="#c8102e"/>
<circle cx="121.54" cy="403.28" r="1.2" fill="#c8102e"/>
<circle cx="129.64" cy="404.80" r="1.2" fill="#c8102e"/>
<circle cx="120.23" cy="401.67" r="1.2" fill="#c8102e"/>
<circle cx="127.47" cy="403.38" r="1.2" fill="#c8102e"/>
<circle cx="133.38" cy="405.35" r="1.2" fill="#c8102e"/>
<circle cx="120.30" cy="401.71" r="1.2" fill="#c8102e"/>
<circle cx="126.10" cy="403.80" r="1.2" fill="#c8102e"/>
<circle cx="121.54" cy="402.94" r="1.2" fill="#c8102e"/>
<circle cx="126.16" cy="404.64" r="1.2" fill="#c8102e"/>
<circle cx="112.29" cy="398.72" r="1.2" fill="#c8102e"/>
<circle cx="108.90" cy="399.68" r="1.2" fill="#c8102e"/>
<circle cx="109.82" cy="398.34" r="1.2" fill="#c8102e"/>
<circle cx="105.20" cy="398.23" r="1.2" fill="#c8102e"/>
<circle cx="114.36" cy="401.20" r="1.2" fill="#c8102e"/>
<circle cx="104.78" cy="398.47" r="1.2" fill="#c8102e"/>
<circle cx="115.63" cy="400.54" r="1.2" fill="#c8102e"/>
<circle cx="116.68" cy="400.63" r="1.2" fill="#c8102e"/>
<circle cx="106.40" cy="397.70" r="1.2" fill="#c8102e"/>
<circle cx="107.60" cy="398.25" r="1.2" fill="#c8102e"/>
<circle cx="117.17" cy="400.46" r="1.2" fill="#c8102e"/>
<circle cx="113.89" cy="400.01" r="1.2" fill="#c8102e"/>
<circle cx="116.29" cy="401.90" r="1.2" fill="#c8102e"/>
<circle cx="98.04" cy="396.29" r="1.2" fill="#c8102e"/>
<circle cx="99.99" cy="396.56" r="1.2" fill="#c8102e"/>
<circle cx="103.91" cy="399.00" r="1.2" fill="#c8102e"/>
<circle cx="103.88" cy="398.06" r="1.2" fill="#c8102e"/>
<circle cx="96.55" cy="395.72" r="1.2" fill="#c8102e"/>
<circle cx="102.52" cy="397.37" r="1.2" fill="#c8102e"/>
<circle cx="97.25" cy="396.99" r="1.2" fill="#c8102e"/>
<circle cx="103.68" cy="398.46" r="1.2" fill="#c8102e"/>
<circle cx="95.94" cy="394.42" r="1.2" fill="#c8102e"/>
<circle cx="98.65" cy="387.79" r="1.4" fill="#c8102e"/>
<circle cx="133.81" cy="384.02" r="1.4" fill="#c8102e"/>
<circle cx="104.10" cy="389.27" r="1.4" fill="#c8102e"/>
<circle cx="129.12" cy="382.46" r="1.4" fill="#c8102e"/>
<circle cx="122.64" cy="386.05" r="1.4" fill="#c8102e"/>
<circle cx="102.52" cy="388.81" r="1.4" fill="#c8102e"/>
<circle cx="116.62" cy="384.05" r="1.4" fill="#c8102e"/>
<circle cx="129.46" cy="385.00" r="1.4" fill="#c8102e"/>
<circle cx="127.77" cy="386.46" r="1.4" fill="#c8102e"/>
<circle cx="104.41" cy="389.68" r="1.4" fill="#c8102e"/>
<circle cx="141.81" cy="383.95" r="1.4" fill="#c8102e"/>
<circle cx="113.55" cy="389.87" r="1.4" fill="#c8102e"/>
<circle cx="101.09" cy="391.36" r="1.4" fill="#c8102e"/>
<circle cx="107.46" cy="391.66" r="1.4" fill="#c8102e"/>
<circle cx="132.59" cy="384.83" r="1.4" fill="#c8102e"/>
<circle cx="113.35" cy="389.65" r="1.4" fill="#c8102e"/>
<circle cx="112.03" cy="383.77" r="1.4" fill="#c8102e"/>
<circle cx="111.20" cy="385.86" r="1.4" fill="#c8102e"/>
<circle cx="96.93" cy="393.54" r="1.4" fill="#c8102e"/>
<circle cx="116.51" cy="385.85" r="1.4" fill="#c8102e"/>
<circle cx="141.49" cy="383.51" r="1.4" fill="#c8102e"/>
<circle cx="93.50" cy="392.96" r="1.4" fill="#c8102e"/>
<circle cx="104.39" cy="390.71" r="1.4" fill="#c8102e"/>
<circle cx="140.32" cy="385.41" r="1.4" fill="#c8102e"/>
<circle cx="124.55" cy="384.41" r="1.4" fill="#c8102e"/>
<circle cx="130.13" cy="385.11" r="1.4" fill="#c8102e"/>
<circle cx="143.42" cy="386.02" r="1.4" fill="#c8102e"/>
<circle cx="104.06" cy="386.59" r="1.4" fill="#c8102e"/>
<circle cx="100.24" cy="391.43" r="1.4" fill="#c8102e"/>
<circle cx="108.36" cy="385.15" r="1.4" fill="#c8102e"/>
<circle cx="110.26" cy="391.17" r="1.4" fill="#c8102e"/>
<circle cx="132.16" cy="384.21" r="1.4" fill="#c8102e"/>
<circle cx="120.95" cy="385.23" r="1.4" fill="#c8102e"/>
<circle cx="115.03" cy="384.04" r="1.4" fill="#c8102e"/>
<circle cx="113.34" cy="389.06" r="1.4" fill="#c8102e"/>
<circle cx="96.79" cy="391.93" r="1.4" fill="#c8102e"/>
<circle cx="106.45" cy="388.37" r="1.4" fill="#c8102e"/>
<circle cx="110.89" cy="390.59" r="1.4" fill="#c8102e"/>
<circle cx="108.27" cy="386.15" r="1.4" fill="#c8102e"/>
<circle cx="145.58" cy="387.60" r="1.4" fill="#c8102e"/>
<circle cx="102.96" cy="391.51" r="1.4" fill="#c8102e"/>
<circle cx="115.15" cy="384.38" r="1.4" fill="#c8102e"/>
<circle cx="84" cy="260.8" r="1.45" fill="#c8102e"/>
<circle cx="83.4" cy="267.2" r="1.45" fill="#c8102e"/>
<circle cx="99.5" cy="274.7" r="1.45" fill="#c8102e"/>
<circle cx="67.4" cy="277.3" r="1.45" fill="#c8102e"/>
<circle cx="74.6" cy="294.8" r="1.45" fill="#c8102e"/>
<circle cx="85.7" cy="305.4" r="1.45" fill="#c8102e"/>
<circle cx="92.8" cy="307.4" r="1.45" fill="#c8102e"/>
<circle cx="95.9" cy="308.4" r="1.45" fill="#c8102e"/>
<circle cx="66.2" cy="321.7" r="1.45" fill="#c8102e"/>
<circle cx="70.5" cy="324.9" r="1.45" fill="#c8102e"/>
<circle cx="84.6" cy="321.4" r="1.45" fill="#c8102e"/>
<circle cx="103.8" cy="320.7" r="1.45" fill="#c8102e"/>
<circle cx="104.1" cy="323.9" r="1.45" fill="#c8102e"/>
<circle cx="95.2" cy="332.9" r="1.45" fill="#c8102e"/>
<circle cx="119.1" cy="320.3" r="1.45" fill="#c8102e"/>
<circle cx="68.7" cy="334.6" r="1.45" fill="#c8102e"/>
<circle cx="111.5" cy="334.6" r="1.45" fill="#c8102e"/>
<circle cx="62.9" cy="338.9" r="1.45" fill="#c8102e"/>
<circle cx="69.1" cy="335.3" r="1.45" fill="#c8102e"/>
<circle cx="89.9" cy="337.2" r="1.45" fill="#c8102e"/>
<circle cx="95.2" cy="342.5" r="1.45" fill="#c8102e"/>
<circle cx="111.3" cy="335.8" r="1.45" fill="#c8102e"/>
<circle cx="112.4" cy="339.3" r="1.45" fill="#c8102e"/>
<circle cx="113.1" cy="343.4" r="1.45" fill="#c8102e"/>
<circle cx="75.8" cy="349" r="1.45" fill="#c8102e"/>
<circle cx="87.3" cy="351.1" r="1.45" fill="#c8102e"/>
<circle cx="97.8" cy="352.7" r="1.45" fill="#c8102e"/>
<circle cx="106" cy="351.8" r="1.45" fill="#c8102e"/>
<circle cx="83.4" cy="359.1" r="1.45" fill="#c8102e"/>
<circle cx="92.3" cy="363" r="1.45" fill="#c8102e"/>
<circle cx="76.6" cy="366.6" r="1.45" fill="#c8102e"/>
<circle cx="108.1" cy="365.9" r="1.45" fill="#c8102e"/>
<circle cx="70.5" cy="370.9" r="1.45" fill="#c8102e"/>
<circle cx="70.8" cy="373.1" r="1.45" fill="#c8102e"/>
<circle cx="74.7" cy="371.2" r="1.45" fill="#c8102e"/>
<circle cx="83.4" cy="370.6" r="1.45" fill="#c8102e"/>
<circle cx="88" cy="372.1" r="1.45" fill="#c8102e"/>
<circle cx="91.6" cy="369.5" r="1.45" fill="#c8102e"/>
<circle cx="94.5" cy="369.8" r="1.45" fill="#c8102e"/>
<circle cx="102.4" cy="369.5" r="1.45" fill="#c8102e"/>
<circle cx="106.4" cy="375.2" r="1.45" fill="#c8102e"/>
<circle cx="112.4" cy="370.9" r="1.45" fill="#c8102e"/>
<circle cx="80.1" cy="379.5" r="1.45" fill="#c8102e"/>
<circle cx="78.7" cy="382.4" r="1.45" fill="#c8102e"/>
<circle cx="84" cy="378.1" r="1.45" fill="#c8102e"/>
<circle cx="93.5" cy="381" r="1.45" fill="#c8102e"/>
<circle cx="99.2" cy="380.2" r="1.45" fill="#c8102e"/>
<circle cx="102.4" cy="383.1" r="1.45" fill="#c8102e"/>
<circle cx="89.2" cy="388.1" r="1.45" fill="#c8102e"/>
<circle cx="92.3" cy="387.4" r="1.45" fill="#c8102e"/>
<circle cx="95.9" cy="389.6" r="1.45" fill="#c8102e"/>
<circle cx="119.3" cy="320.2" r="1.45" fill="#c8102e"/>
<circle cx="104.1" cy="321" r="1.45" fill="#c8102e"/>
<circle cx="104.5" cy="323.8" r="1.45" fill="#c8102e"/>
<circle cx="95.6" cy="332.8" r="1.45" fill="#c8102e"/>
<circle cx="95.6" cy="342.3" r="1.45" fill="#c8102e"/>
<circle cx="111.4" cy="335.8" r="1.45" fill="#c8102e"/>
<circle cx="112.6" cy="338.9" r="1.45" fill="#c8102e"/>
<circle cx="118.1" cy="336.8" r="1.45" fill="#c8102e"/>
<circle cx="117.1" cy="341.3" r="1.45" fill="#c8102e"/>
<circle cx="112.6" cy="343.5" r="1.45" fill="#c8102e"/>
<circle cx="116.6" cy="347.1" r="1.45" fill="#c8102e"/>
<circle cx="118.1" cy="349.8" r="1.45" fill="#c8102e"/>
<circle cx="122.9" cy="350.2" r="1.45" fill="#c8102e"/>
<circle cx="126.6" cy="350.5" r="1.45" fill="#c8102e"/>
<circle cx="130.2" cy="353.2" r="1.45" fill="#c8102e"/>
<circle cx="105.9" cy="352" r="1.45" fill="#c8102e"/>
<circle cx="97.4" cy="353.2" r="1.45" fill="#c8102e"/>
<circle cx="116.9" cy="358.1" r="1.45" fill="#c8102e"/>
<circle cx="122.3" cy="357.1" r="1.45" fill="#c8102e"/>
<circle cx="108.4" cy="365.4" r="1.45" fill="#c8102e"/>
<circle cx="116.2" cy="365.4" r="1.45" fill="#c8102e"/>
<circle cx="120.5" cy="367.2" r="1.45" fill="#c8102e"/>
<circle cx="126" cy="366.6" r="1.45" fill="#c8102e"/>
<circle cx="127.8" cy="368.4" r="1.45" fill="#c8102e"/>
<circle cx="129.6" cy="363.9" r="1.45" fill="#c8102e"/>
<circle cx="132.6" cy="369" r="1.45" fill="#c8102e"/>
<circle cx="102.3" cy="369.2" r="1.45" fill="#c8102e"/>
<circle cx="113.2" cy="370.5" r="1.45" fill="#c8102e"/>
<circle cx="95" cy="369" r="1.45" fill="#c8102e"/>
<circle cx="106.5" cy="374.8" r="1.45" fill="#c8102e"/>
<circle cx="113.2" cy="374.5" r="1.45" fill="#c8102e"/>
<circle cx="113.2" cy="376.3" r="1.45" fill="#c8102e"/>
<circle cx="117.5" cy="376.5" r="1.45" fill="#c8102e"/>
<circle cx="120.7" cy="375.1" r="1.45" fill="#c8102e"/>
<circle cx="126" cy="377.5" r="1.45" fill="#c8102e"/>
<circle cx="129.6" cy="375.1" r="1.45" fill="#c8102e"/>
<circle cx="130.2" cy="377.5" r="1.45" fill="#c8102e"/>
<circle cx="133.9" cy="373.9" r="1.45" fill="#c8102e"/>
<circle cx="135.7" cy="377.5" r="1.45" fill="#c8102e"/>
<circle cx="136.9" cy="376.3" r="1.45" fill="#c8102e"/>
<circle cx="96.2" cy="377.5" r="1.45" fill="#c8102e"/>
<circle cx="99.2" cy="380.5" r="1.45" fill="#c8102e"/>
<circle cx="105.3" cy="381.1" r="1.45" fill="#c8102e"/>
<circle cx="115" cy="379.3" r="1.45" fill="#c8102e"/>
<circle cx="119.9" cy="380.5" r="1.45" fill="#c8102e"/>
<circle cx="102.3" cy="383.6" r="1.45" fill="#c8102e"/>
<circle cx="110.2" cy="383.6" r="1.45" fill="#c8102e"/>
<circle cx="118.1" cy="384.2" r="1.45" fill="#c8102e"/>
<circle cx="130.2" cy="382.4" r="1.45" fill="#c8102e"/>
<circle cx="98" cy="385.4" r="1.45" fill="#c8102e"/>
<circle cx="102.3" cy="386" r="1.45" fill="#c8102e"/>
<circle cx="109.6" cy="386.6" r="1.45" fill="#c8102e"/>
<circle cx="196.25" cy="269.25" r="1.45" fill="#c8102e"/>
<circle cx="190.5" cy="307" r="1.45" fill="#c8102e"/>
<circle cx="201.75" cy="305" r="1.45" fill="#c8102e"/>
<circle cx="194.5" cy="325.75" r="1.45" fill="#c8102e"/>
<circle cx="190" cy="333.25" r="1.45" fill="#c8102e"/>
<circle cx="189.5" cy="337.5" r="1.45" fill="#c8102e"/>
<circle cx="192.5" cy="338" r="1.45" fill="#c8102e"/>
<circle cx="185.75" cy="342" r="1.45" fill="#c8102e"/>
<circle cx="191.25" cy="345.5" r="1.45" fill="#c8102e"/>
<circle cx="197.5" cy="346.25" r="1.45" fill="#c8102e"/>
<circle cx="190" cy="333.4" r="1.45" fill="#c8102e"/>
<circle cx="189.1" cy="337.4" r="1.45" fill="#c8102e"/>
<circle cx="191.8" cy="338.4" r="1.45" fill="#c8102e"/>
<circle cx="185.7" cy="342.1" r="1.45" fill="#c8102e"/>
<circle cx="191.5" cy="345.8" r="1.45" fill="#c8102e"/>
<circle cx="197.5" cy="346.5" r="1.45" fill="#c8102e"/>
<circle cx="182.1" cy="351.6" r="1.45" fill="#c8102e"/>
<circle cx="184.4" cy="351.3" r="1.45" fill="#c8102e"/>
<circle cx="186.4" cy="351.6" r="1.45" fill="#c8102e"/>
<circle cx="177.2" cy="356.3" r="1.45" fill="#c8102e"/>
<circle cx="185.7" cy="357.6" r="1.45" fill="#c8102e"/>
<circle cx="196.9" cy="357" r="1.45" fill="#c8102e"/>
<circle cx="178.7" cy="359.4" r="1.45" fill="#c8102e"/>
<circle cx="195.6" cy="359.9" r="1.45" fill="#c8102e"/>
<circle cx="183" cy="361.3" r="1.45" fill="#c8102e"/>
<circle cx="188.4" cy="361.7" r="1.45" fill="#c8102e"/>
<circle cx="187.1" cy="363" r="1.45" fill="#c8102e"/>
<circle cx="184.4" cy="364" r="1.45" fill="#c8102e"/>
<circle cx="192.5" cy="365.3" r="1.45" fill="#c8102e"/>
<circle cx="192.9" cy="367.1" r="1.45" fill="#c8102e"/>
<circle cx="182.4" cy="367.1" r="1.45" fill="#c8102e"/>
<circle cx="187.1" cy="367.1" r="1.45" fill="#c8102e"/>
<circle cx="181.7" cy="369.8" r="1.45" fill="#c8102e"/>
<circle cx="186.4" cy="368.4" r="1.45" fill="#c8102e"/>
<circle cx="176.3" cy="373.8" r="1.45" fill="#c8102e"/>
<circle cx="183.7" cy="373.2" r="1.45" fill="#c8102e"/>
<circle cx="189.4" cy="374.5" r="1.45" fill="#c8102e"/>
<circle cx="189.1" cy="377.2" r="1.45" fill="#c8102e"/>
<circle cx="191.1" cy="377.9" r="1.45" fill="#c8102e"/>
<circle cx="195.2" cy="383.3" r="1.45" fill="#c8102e"/>
<circle cx="199.9" cy="382.6" r="1.45" fill="#c8102e"/>
<circle cx="199.6" cy="386.4" r="1.45" fill="#c8102e"/>
<circle cx="199.2" cy="391.4" r="1.45" fill="#c8102e"/>
<circle cx="203.9" cy="394.1" r="1.45" fill="#c8102e"/>
<circle cx="196.5" cy="395.4" r="1.45" fill="#c8102e"/>
<circle cx="201.9" cy="395.4" r="1.45" fill="#c8102e"/>
<circle cx="187" cy="381" r="1.45" fill="#c8102e"/>
<circle cx="189" cy="384" r="1.45" fill="#c8102e"/>
<circle cx="191" cy="388" r="1.45" fill="#c8102e"/>
<circle cx="189" cy="391" r="1.45" fill="#c8102e"/>
<circle cx="193" cy="386" r="1.45" fill="#c8102e"/>
<circle cx="87.9" cy="388.7" r="1.45" fill="#c8102e"/>
<circle cx="89.3" cy="387.2" r="1.45" fill="#c8102e"/>
<circle cx="93.7" cy="380.75" r="1.45" fill="#c8102e"/>
<circle cx="98.7" cy="380.75" r="1.45" fill="#c8102e"/>
<circle cx="96.5" cy="377.1" r="1.45" fill="#c8102e"/>
<circle cx="102.3" cy="383.6" r="1.45" fill="#c8102e"/>
<circle cx="103" cy="385.8" r="1.45" fill="#c8102e"/>
<circle cx="106.6" cy="380.75" r="1.45" fill="#c8102e"/>
<circle cx="105.9" cy="375.7" r="1.45" fill="#c8102e"/>
<circle cx="113.1" cy="374.3" r="1.45" fill="#c8102e"/>
<circle cx="113.8" cy="376.4" r="1.45" fill="#c8102e"/>
<circle cx="111.7" cy="382.9" r="1.45" fill="#c8102e"/>
<circle cx="115.3" cy="379.3" r="1.45" fill="#c8102e"/>
<circle cx="116" cy="380.75" r="1.45" fill="#c8102e"/>
<circle cx="119.6" cy="375.7" r="1.45" fill="#c8102e"/>
<circle cx="119.6" cy="380" r="1.45" fill="#c8102e"/>
<circle cx="118.9" cy="383.6" r="1.45" fill="#c8102e"/>
<circle cx="125.4" cy="377.1" r="1.45" fill="#c8102e"/>
<circle cx="128.3" cy="375.7" r="1.45" fill="#c8102e"/>
<circle cx="129" cy="380" r="1.45" fill="#c8102e"/>
<circle cx="134.8" cy="375.7" r="1.45" fill="#c8102e"/>
<circle cx="136.2" cy="377.9" r="1.45" fill="#c8102e"/>
<circle cx="131.2" cy="382.2" r="1.45" fill="#c8102e"/>
<circle cx="136.2" cy="385.8" r="1.45" fill="#c8102e"/>
<circle cx="138.4" cy="387.2" r="1.45" fill="#c8102e"/>
<circle cx="143.4" cy="388.7" r="1.45" fill="#c8102e"/>
<circle cx="87.9" cy="370.7" r="1.45" fill="#c8102e"/>
<circle cx="92.2" cy="369.2" r="1.45" fill="#c8102e"/>
<circle cx="102.3" cy="369.2" r="1.45" fill="#c8102e"/>
<circle cx="108.1" cy="365.6" r="1.45" fill="#c8102e"/>
<circle cx="116" cy="364.9" r="1.45" fill="#c8102e"/>
<circle cx="120.3" cy="367" r="1.45" fill="#c8102e"/>
<circle cx="126.8" cy="367.8" r="1.45" fill="#c8102e"/>
<circle cx="127.5" cy="368.5" r="1.45" fill="#c8102e"/>
<circle cx="129.7" cy="364.2" r="1.45" fill="#c8102e"/>
<circle cx="133.3" cy="369.2" r="1.45" fill="#c8102e"/>
<circle cx="113.1" cy="370.7" r="1.45" fill="#c8102e"/>
<circle cx="92.2" cy="363.4" r="1.45" fill="#c8102e"/>
<line x1="133.6" y1="274.7" x2="133.6" y2="405.9" stroke="#3a3a3c" stroke-width="1.1" stroke-dasharray="4.5 2.3"/>
<line x1="179.2" y1="274.7" x2="179.2" y2="405.9" stroke="#3a3a3c" stroke-width="1.1" stroke-dasharray="4.5 2.3"/>
<text x="115.75" y="436.25" font-size="10.6" text-anchor="start" font-weight="normal" fill="#231f20" stroke="#231f20" stroke-width="0.3" textLength="60.5" lengthAdjust="spacingAndGlyphs" >Log2 fold change</text>
<text transform="translate(19.9,333.70000000000005) rotate(-90)" x="0" y="0" font-size="10" text-anchor="middle" fill="#231f20" textLength="91.80000000000001" lengthAdjust="spacingAndGlyphs">-Log10(adjusted p-value)</text>
<text x="87.7" y="262.6" font-size="9.15" text-anchor="start" font-weight="normal" fill="#231f20" stroke="#231f20" stroke-width="0.3" textLength="20.7" lengthAdjust="spacingAndGlyphs" >Trgc1</text>
<text x="71.3" y="274.7" font-size="9.15" text-anchor="start" font-weight="normal" fill="#231f20" stroke="#231f20" stroke-width="0.3" textLength="22.9" lengthAdjust="spacingAndGlyphs" >Susd5</text>
<text x="103.4" y="278.7" font-size="9.15" text-anchor="start" font-weight="normal" fill="#231f20" stroke="#231f20" stroke-width="0.3" textLength="12.0" lengthAdjust="spacingAndGlyphs" >F2r</text>
<text x="60" y="287" font-size="9.15" text-anchor="start" font-weight="normal" fill="#231f20" stroke="#231f20" stroke-width="0.3" textLength="20.9" lengthAdjust="spacingAndGlyphs" >Ptprg</text>
<text x="90" y="300.9" font-size="9.15" text-anchor="start" font-weight="normal" fill="#231f20" stroke="#231f20" stroke-width="0.3" textLength="29.1" lengthAdjust="spacingAndGlyphs" >Abcb1a</text>
<text x="57.2" y="307.4" font-size="9.15" text-anchor="start" font-weight="normal" fill="#231f20" stroke="#231f20" stroke-width="0.3" textLength="23.7" lengthAdjust="spacingAndGlyphs" >Rab38</text>
<text x="102.5" y="310" font-size="9.15" text-anchor="start" font-weight="normal" fill="#231f20" stroke="#231f20" stroke-width="0.3" textLength="24.4" lengthAdjust="spacingAndGlyphs" >Itga2b</text>
<text x="70.1" y="317.1" font-size="9.15" text-anchor="start" font-weight="normal" fill="#231f20" stroke="#231f20" stroke-width="0.3" textLength="16.2" lengthAdjust="spacingAndGlyphs" >Il2ra</text>
<text x="91" y="318.9" font-size="9.15" text-anchor="start" font-weight="normal" fill="#231f20" stroke="#231f20" stroke-width="0.3" textLength="23.4" lengthAdjust="spacingAndGlyphs" >Gata2</text>
<text x="49.7" y="321" font-size="9.15" text-anchor="start" font-weight="normal" fill="#231f20" stroke="#231f20" stroke-width="0.3" textLength="18.3" lengthAdjust="spacingAndGlyphs" >Ddx4</text>
<text x="68" y="332.5" font-size="9.15" text-anchor="start" font-weight="normal" fill="#231f20" stroke="#231f20" stroke-width="0.3" textLength="25.8" lengthAdjust="spacingAndGlyphs" >Mdga1</text>
<text x="101.9" y="332.5" font-size="9.15" text-anchor="start" font-weight="normal" fill="#231f20" stroke="#231f20" stroke-width="0.3" textLength="24.0" lengthAdjust="spacingAndGlyphs" >Prss34</text>
<text x="70.1" y="342.9" font-size="9.15" text-anchor="start" font-weight="normal" fill="#231f20" stroke="#231f20" stroke-width="0.3" textLength="22.2" lengthAdjust="spacingAndGlyphs" >Hnf4a</text>
<text x="49" y="350.1" font-size="9.15" text-anchor="start" font-weight="normal" fill="#231f20" stroke="#231f20" stroke-width="0.3" textLength="22.5" lengthAdjust="spacingAndGlyphs" >Psg17</text>
<text x="90.9" y="351.5" font-size="9.15" text-anchor="start" font-weight="normal" fill="#231f20" stroke="#231f20" stroke-width="0.3" textLength="12.9" lengthAdjust="spacingAndGlyphs" >Tox</text>
<text x="53.2" y="358.7" font-size="9.15" text-anchor="start" font-weight="normal" fill="#231f20" stroke="#231f20" stroke-width="0.3" textLength="26.9" lengthAdjust="spacingAndGlyphs" >Hmga2</text>
<text x="94.5" y="362.6" font-size="9.15" text-anchor="start" font-weight="normal" fill="#231f20" stroke="#231f20" stroke-width="0.3" textLength="17.2" lengthAdjust="spacingAndGlyphs" >Eya1</text>
<text x="51.5" y="368.8" font-size="9.15" text-anchor="start" font-weight="normal" fill="#231f20" stroke="#231f20" stroke-width="0.3" textLength="20.8" lengthAdjust="spacingAndGlyphs" >Trpc6</text>
<text x="49" y="379.2" font-size="9.15" text-anchor="start" font-weight="normal" fill="#231f20" stroke="#231f20" stroke-width="0.3" textLength="28.3" lengthAdjust="spacingAndGlyphs" >Mecom</text>
<text x="53.9" y="388.1" font-size="9.15" text-anchor="start" font-weight="normal" fill="#231f20" stroke="#231f20" stroke-width="0.3" textLength="21.5" lengthAdjust="spacingAndGlyphs" >Meis1</text>
<path d="M310.0,258.3 V406.2 H507.8" fill="none" stroke="#231f20" stroke-width="1.15"/>
<line x1="306.2" y1="258.6" x2="310.0" y2="258.6" stroke="#231f20" stroke-width="1.1"/>
<text x="302.6" y="261.8" font-size="9.45" text-anchor="end" font-weight="normal" fill="#231f20" stroke="#231f20" stroke-width="0.3" textLength="13.8" lengthAdjust="spacingAndGlyphs" >300</text>
<line x1="306.2" y1="307.4" x2="310.0" y2="307.4" stroke="#231f20" stroke-width="1.1"/>
<text x="302.6" y="310.6" font-size="9.45" text-anchor="end" font-weight="normal" fill="#231f20" stroke="#231f20" stroke-width="0.3" textLength="13.8" lengthAdjust="spacingAndGlyphs" >200</text>
<line x1="306.2" y1="356.6" x2="310.0" y2="356.6" stroke="#231f20" stroke-width="1.1"/>
<text x="302.6" y="359.8" font-size="9.45" text-anchor="end" font-weight="normal" fill="#231f20" stroke="#231f20" stroke-width="0.3" textLength="13.8" lengthAdjust="spacingAndGlyphs" >100</text>
<line x1="306.2" y1="406.2" x2="310.0" y2="406.2" stroke="#231f20" stroke-width="1.1"/>
<text x="302.6" y="409.4" font-size="9.45" text-anchor="end" font-weight="normal" fill="#231f20" stroke="#231f20" stroke-width="0.3" textLength="4.6" lengthAdjust="spacingAndGlyphs" >0</text>
<line x1="332.3" y1="406.2" x2="332.3" y2="410.0" stroke="#231f20" stroke-width="1.1"/>
<text x="327.85" y="420.8" font-size="9.45" text-anchor="start" font-weight="normal" fill="#231f20" stroke="#231f20" stroke-width="0.3" textLength="8.5" lengthAdjust="spacingAndGlyphs" >–4</text>
<line x1="376.1" y1="406.2" x2="376.1" y2="410.0" stroke="#231f20" stroke-width="1.1"/>
<text x="371.65" y="420.8" font-size="9.45" text-anchor="start" font-weight="normal" fill="#231f20" stroke="#231f20" stroke-width="0.3" textLength="8.5" lengthAdjust="spacingAndGlyphs" >–2</text>
<line x1="420.5" y1="406.2" x2="420.5" y2="410.0" stroke="#231f20" stroke-width="1.1"/>
<text x="418.35" y="420.8" font-size="9.45" text-anchor="start" font-weight="normal" fill="#231f20" stroke="#231f20" stroke-width="0.3" textLength="4.3" lengthAdjust="spacingAndGlyphs" >0</text>
<line x1="464.0" y1="406.2" x2="464.0" y2="410.0" stroke="#231f20" stroke-width="1.1"/>
<text x="461.85" y="420.8" font-size="9.45" text-anchor="start" font-weight="normal" fill="#231f20" stroke="#231f20" stroke-width="0.3" textLength="4.3" lengthAdjust="spacingAndGlyphs" >2</text>
<line x1="507.4" y1="406.2" x2="507.4" y2="410.0" stroke="#231f20" stroke-width="1.1"/>
<text x="505.25" y="420.8" font-size="9.45" text-anchor="start" font-weight="normal" fill="#231f20" stroke="#231f20" stroke-width="0.3" textLength="4.3" lengthAdjust="spacingAndGlyphs" >4</text>
<polygon points="373.6,400.5 380.4,396 385,394 389.6,391 394.2,387.9 397.3,384.5 401.9,381.8 404.5,380.5 409.5,386 413.5,393.5 417,400 419.5,404.8 422,402.5 424.5,398 427.5,390.5 431,381 433.8,377.6 437,364.9 440.2,361.7 443,366 446.5,377.6 452.9,387.1 462.4,395 465.6,401.4 462,404.5 442.5,405.8 395.8,405.8 375.8,403.5" fill="#c8102e" stroke="#c8102e" stroke-width="1.0" stroke-linejoin="round"/>
<circle cx="374.96" cy="399.40" r="1.2" fill="#c8102e"/>
<circle cx="374.18" cy="399.85" r="1.2" fill="#c8102e"/>
<circle cx="374.01" cy="399.13" r="1.2" fill="#c8102e"/>
<circle cx="375.52" cy="397.57" r="1.2" fill="#c8102e"/>
<circle cx="377.27" cy="397.69" r="1.2" fill="#c8102e"/>
<circle cx="375.42" cy="400.57" r="1.2" fill="#c8102e"/>
<circle cx="377.28" cy="399.05" r="1.2" fill="#c8102e"/>
<circle cx="381.47" cy="395.40" r="1.2" fill="#c8102e"/>
<circle cx="380.15" cy="395.25" r="1.2" fill="#c8102e"/>
<circle cx="383.39" cy="394.56" r="1.2" fill="#c8102e"/>
<circle cx="383.03" cy="394.84" r="1.2" fill="#c8102e"/>
<circle cx="384.23" cy="393.11" r="1.2" fill="#c8102e"/>
<circle cx="387.96" cy="391.51" r="1.2" fill="#c8102e"/>
<circle cx="387.58" cy="391.76" r="1.2" fill="#c8102e"/>
<circle cx="389.13" cy="391.00" r="1.2" fill="#c8102e"/>
<circle cx="392.30" cy="390.12" r="1.2" fill="#c8102e"/>
<circle cx="392.45" cy="389.89" r="1.2" fill="#c8102e"/>
<circle cx="389.95" cy="391.25" r="1.2" fill="#c8102e"/>
<circle cx="390.27" cy="389.42" r="1.2" fill="#c8102e"/>
<circle cx="396.91" cy="385.80" r="1.2" fill="#c8102e"/>
<circle cx="396.47" cy="385.39" r="1.2" fill="#c8102e"/>
<circle cx="396.23" cy="385.77" r="1.2" fill="#c8102e"/>
<circle cx="397.87" cy="384.98" r="1.2" fill="#c8102e"/>
<circle cx="399.30" cy="383.19" r="1.2" fill="#c8102e"/>
<circle cx="401.46" cy="383.53" r="1.2" fill="#c8102e"/>
<circle cx="398.34" cy="384.14" r="1.2" fill="#c8102e"/>
<circle cx="397.31" cy="383.64" r="1.2" fill="#c8102e"/>
<circle cx="401.15" cy="382.29" r="1.2" fill="#c8102e"/>
<circle cx="401.63" cy="381.37" r="1.2" fill="#c8102e"/>
<circle cx="407.85" cy="385.17" r="1.2" fill="#c8102e"/>
<circle cx="408.17" cy="384.29" r="1.2" fill="#c8102e"/>
<circle cx="408.29" cy="385.05" r="1.2" fill="#c8102e"/>
<circle cx="407.22" cy="383.57" r="1.2" fill="#c8102e"/>
<circle cx="404.48" cy="380.69" r="1.2" fill="#c8102e"/>
<circle cx="405.63" cy="382.00" r="1.2" fill="#c8102e"/>
<circle cx="409.36" cy="387.78" r="1.2" fill="#c8102e"/>
<circle cx="411.14" cy="389.86" r="1.2" fill="#c8102e"/>
<circle cx="412.30" cy="391.46" r="1.2" fill="#c8102e"/>
<circle cx="411.13" cy="392.03" r="1.2" fill="#c8102e"/>
<circle cx="413.52" cy="392.56" r="1.2" fill="#c8102e"/>
<circle cx="410.83" cy="387.99" r="1.2" fill="#c8102e"/>
<circle cx="410.99" cy="389.72" r="1.2" fill="#c8102e"/>
<circle cx="413.42" cy="394.47" r="1.2" fill="#c8102e"/>
<circle cx="412.48" cy="393.00" r="1.2" fill="#c8102e"/>
<circle cx="413.53" cy="393.02" r="1.2" fill="#c8102e"/>
<circle cx="416.83" cy="398.34" r="1.2" fill="#c8102e"/>
<circle cx="414.02" cy="394.81" r="1.2" fill="#c8102e"/>
<circle cx="414.77" cy="395.48" r="1.2" fill="#c8102e"/>
<circle cx="418.13" cy="401.24" r="1.2" fill="#c8102e"/>
<circle cx="416.88" cy="399.93" r="1.2" fill="#c8102e"/>
<circle cx="418.26" cy="402.83" r="1.2" fill="#c8102e"/>
<circle cx="419.45" cy="403.72" r="1.2" fill="#c8102e"/>
<circle cx="419.72" cy="403.62" r="1.2" fill="#c8102e"/>
<circle cx="422.82" cy="403.02" r="1.2" fill="#c8102e"/>
<circle cx="419.83" cy="403.40" r="1.2" fill="#c8102e"/>
<circle cx="424.01" cy="399.70" r="1.2" fill="#c8102e"/>
<circle cx="422.16" cy="401.76" r="1.2" fill="#c8102e"/>
<circle cx="425.31" cy="398.80" r="1.2" fill="#c8102e"/>
<circle cx="424.62" cy="398.16" r="1.2" fill="#c8102e"/>
<circle cx="425.71" cy="392.99" r="1.2" fill="#c8102e"/>
<circle cx="424.05" cy="397.21" r="1.2" fill="#c8102e"/>
<circle cx="427.67" cy="392.68" r="1.2" fill="#c8102e"/>
<circle cx="428.48" cy="392.06" r="1.2" fill="#c8102e"/>
<circle cx="424.92" cy="394.61" r="1.2" fill="#c8102e"/>
<circle cx="424.38" cy="396.82" r="1.2" fill="#c8102e"/>
<circle cx="428.02" cy="391.20" r="1.2" fill="#c8102e"/>
<circle cx="430.50" cy="383.30" r="1.2" fill="#c8102e"/>
<circle cx="430.80" cy="384.90" r="1.2" fill="#c8102e"/>
<circle cx="430.07" cy="382.60" r="1.2" fill="#c8102e"/>
<circle cx="429.86" cy="383.73" r="1.2" fill="#c8102e"/>
<circle cx="430.65" cy="381.03" r="1.2" fill="#c8102e"/>
<circle cx="431.35" cy="380.71" r="1.2" fill="#c8102e"/>
<circle cx="427.11" cy="390.26" r="1.2" fill="#c8102e"/>
<circle cx="429.47" cy="383.62" r="1.2" fill="#c8102e"/>
<circle cx="431.31" cy="380.83" r="1.2" fill="#c8102e"/>
<circle cx="431.65" cy="377.97" r="1.2" fill="#c8102e"/>
<circle cx="434.08" cy="377.76" r="1.2" fill="#c8102e"/>
<circle cx="433.46" cy="378.72" r="1.2" fill="#c8102e"/>
<circle cx="435.75" cy="366.51" r="1.2" fill="#c8102e"/>
<circle cx="434.11" cy="374.09" r="1.2" fill="#c8102e"/>
<circle cx="434.44" cy="373.42" r="1.2" fill="#c8102e"/>
<circle cx="436.36" cy="365.94" r="1.2" fill="#c8102e"/>
<circle cx="436.64" cy="370.00" r="1.2" fill="#c8102e"/>
<circle cx="436.74" cy="366.02" r="1.2" fill="#c8102e"/>
<circle cx="434.32" cy="370.81" r="1.2" fill="#c8102e"/>
<circle cx="433.20" cy="375.99" r="1.2" fill="#c8102e"/>
<circle cx="434.29" cy="375.95" r="1.2" fill="#c8102e"/>
<circle cx="435.16" cy="370.58" r="1.2" fill="#c8102e"/>
<circle cx="436.26" cy="369.60" r="1.2" fill="#c8102e"/>
<circle cx="438.19" cy="362.57" r="1.2" fill="#c8102e"/>
<circle cx="439.49" cy="362.58" r="1.2" fill="#c8102e"/>
<circle cx="440.42" cy="362.33" r="1.2" fill="#c8102e"/>
<circle cx="438.97" cy="362.97" r="1.2" fill="#c8102e"/>
<circle cx="442.03" cy="364.76" r="1.2" fill="#c8102e"/>
<circle cx="442.60" cy="364.23" r="1.2" fill="#c8102e"/>
<circle cx="443.72" cy="364.89" r="1.2" fill="#c8102e"/>
<circle cx="442.83" cy="364.92" r="1.2" fill="#c8102e"/>
<circle cx="442.57" cy="367.45" r="1.2" fill="#c8102e"/>
<circle cx="442.63" cy="365.82" r="1.2" fill="#c8102e"/>
<circle cx="446.02" cy="374.72" r="1.2" fill="#c8102e"/>
<circle cx="444.06" cy="368.18" r="1.2" fill="#c8102e"/>
<circle cx="444.42" cy="368.78" r="1.2" fill="#c8102e"/>
<circle cx="444.85" cy="368.30" r="1.2" fill="#c8102e"/>
<circle cx="445.88" cy="372.45" r="1.2" fill="#c8102e"/>
<circle cx="443.40" cy="367.91" r="1.2" fill="#c8102e"/>
<circle cx="443.46" cy="369.50" r="1.2" fill="#c8102e"/>
<circle cx="444.37" cy="374.51" r="1.2" fill="#c8102e"/>
<circle cx="448.16" cy="381.38" r="1.2" fill="#c8102e"/>
<circle cx="450.52" cy="382.48" r="1.2" fill="#c8102e"/>
<circle cx="453.50" cy="388.09" r="1.2" fill="#c8102e"/>
<circle cx="446.61" cy="377.49" r="1.2" fill="#c8102e"/>
<circle cx="450.93" cy="384.11" r="1.2" fill="#c8102e"/>
<circle cx="450.19" cy="382.38" r="1.2" fill="#c8102e"/>
<circle cx="447.31" cy="381.06" r="1.2" fill="#c8102e"/>
<circle cx="450.63" cy="382.04" r="1.2" fill="#c8102e"/>
<circle cx="447.32" cy="377.97" r="1.2" fill="#c8102e"/>
<circle cx="448.02" cy="378.61" r="1.2" fill="#c8102e"/>
<circle cx="459.52" cy="394.29" r="1.2" fill="#c8102e"/>
<circle cx="454.40" cy="387.52" r="1.2" fill="#c8102e"/>
<circle cx="456.25" cy="390.80" r="1.2" fill="#c8102e"/>
<circle cx="454.55" cy="389.28" r="1.2" fill="#c8102e"/>
<circle cx="454.23" cy="388.17" r="1.2" fill="#c8102e"/>
<circle cx="452.66" cy="387.05" r="1.2" fill="#c8102e"/>
<circle cx="456.42" cy="389.01" r="1.2" fill="#c8102e"/>
<circle cx="456.88" cy="390.68" r="1.2" fill="#c8102e"/>
<circle cx="452.47" cy="386.08" r="1.2" fill="#c8102e"/>
<circle cx="459.99" cy="392.15" r="1.2" fill="#c8102e"/>
<circle cx="458.45" cy="389.91" r="1.2" fill="#c8102e"/>
<circle cx="464.86" cy="400.23" r="1.2" fill="#c8102e"/>
<circle cx="464.81" cy="400.36" r="1.2" fill="#c8102e"/>
<circle cx="465.76" cy="399.02" r="1.2" fill="#c8102e"/>
<circle cx="465.56" cy="400.65" r="1.2" fill="#c8102e"/>
<circle cx="463.33" cy="396.52" r="1.2" fill="#c8102e"/>
<circle cx="461.79" cy="396.41" r="1.2" fill="#c8102e"/>
<circle cx="463.87" cy="401.20" r="1.2" fill="#c8102e"/>
<circle cx="463.46" cy="404.42" r="1.2" fill="#c8102e"/>
<circle cx="463.97" cy="401.78" r="1.2" fill="#c8102e"/>
<circle cx="463.12" cy="402.69" r="1.2" fill="#c8102e"/>
<circle cx="457.98" cy="405.98" r="1.2" fill="#c8102e"/>
<circle cx="450.72" cy="406.33" r="1.2" fill="#c8102e"/>
<circle cx="455.62" cy="403.70" r="1.2" fill="#c8102e"/>
<circle cx="454.50" cy="405.00" r="1.2" fill="#c8102e"/>
<circle cx="458.09" cy="403.57" r="1.2" fill="#c8102e"/>
<circle cx="455.86" cy="404.60" r="1.2" fill="#c8102e"/>
<circle cx="460.04" cy="404.08" r="1.2" fill="#c8102e"/>
<circle cx="457.67" cy="404.87" r="1.2" fill="#c8102e"/>
<circle cx="447.74" cy="405.99" r="1.2" fill="#c8102e"/>
<circle cx="444.59" cy="405.23" r="1.2" fill="#c8102e"/>
<circle cx="441.96" cy="406.32" r="1.2" fill="#c8102e"/>
<circle cx="448.36" cy="406.14" r="1.2" fill="#c8102e"/>
<circle cx="444.91" cy="406.22" r="1.2" fill="#c8102e"/>
<circle cx="445.30" cy="405.61" r="1.2" fill="#c8102e"/>
<circle cx="452.97" cy="405.89" r="1.2" fill="#c8102e"/>
<circle cx="446.09" cy="405.38" r="1.2" fill="#c8102e"/>
<circle cx="447.83" cy="404.28" r="1.2" fill="#c8102e"/>
<circle cx="435.95" cy="404.85" r="1.2" fill="#c8102e"/>
<circle cx="403.61" cy="406.11" r="1.2" fill="#c8102e"/>
<circle cx="413.69" cy="405.77" r="1.2" fill="#c8102e"/>
<circle cx="443.06" cy="406.40" r="1.2" fill="#c8102e"/>
<circle cx="419.10" cy="406.18" r="1.2" fill="#c8102e"/>
<circle cx="439.98" cy="405.21" r="1.2" fill="#c8102e"/>
<circle cx="438.46" cy="406.35" r="1.2" fill="#c8102e"/>
<circle cx="433.49" cy="405.61" r="1.2" fill="#c8102e"/>
<circle cx="424.58" cy="406.24" r="1.2" fill="#c8102e"/>
<circle cx="406.96" cy="406.14" r="1.2" fill="#c8102e"/>
<circle cx="438.04" cy="405.21" r="1.2" fill="#c8102e"/>
<circle cx="407.32" cy="405.96" r="1.2" fill="#c8102e"/>
<circle cx="440.86" cy="405.25" r="1.2" fill="#c8102e"/>
<circle cx="411.58" cy="406.22" r="1.2" fill="#c8102e"/>
<circle cx="428.96" cy="405.72" r="1.2" fill="#c8102e"/>
<circle cx="419.81" cy="405.96" r="1.2" fill="#c8102e"/>
<circle cx="397.87" cy="404.64" r="1.2" fill="#c8102e"/>
<circle cx="421.83" cy="405.66" r="1.2" fill="#c8102e"/>
<circle cx="429.26" cy="405.95" r="1.2" fill="#c8102e"/>
<circle cx="414.49" cy="405.86" r="1.2" fill="#c8102e"/>
<circle cx="397.13" cy="405.59" r="1.2" fill="#c8102e"/>
<circle cx="401.57" cy="405.16" r="1.2" fill="#c8102e"/>
<circle cx="400.54" cy="404.66" r="1.2" fill="#c8102e"/>
<circle cx="442.31" cy="405.68" r="1.2" fill="#c8102e"/>
<circle cx="427.54" cy="405.43" r="1.2" fill="#c8102e"/>
<circle cx="428.56" cy="404.60" r="1.2" fill="#c8102e"/>
<circle cx="408.25" cy="404.89" r="1.2" fill="#c8102e"/>
<circle cx="399.75" cy="405.85" r="1.2" fill="#c8102e"/>
<circle cx="424.86" cy="405.49" r="1.2" fill="#c8102e"/>
<circle cx="425.48" cy="405.26" r="1.2" fill="#c8102e"/>
<circle cx="439.29" cy="405.86" r="1.2" fill="#c8102e"/>
<circle cx="398.21" cy="405.24" r="1.2" fill="#c8102e"/>
<circle cx="417.89" cy="405.50" r="1.2" fill="#c8102e"/>
<circle cx="398.77" cy="405.44" r="1.2" fill="#c8102e"/>
<circle cx="400.90" cy="405.92" r="1.2" fill="#c8102e"/>
<circle cx="407.81" cy="406.36" r="1.2" fill="#c8102e"/>
<circle cx="422.05" cy="406.15" r="1.2" fill="#c8102e"/>
<circle cx="428.05" cy="406.05" r="1.2" fill="#c8102e"/>
<circle cx="420.07" cy="405.31" r="1.2" fill="#c8102e"/>
<circle cx="409.13" cy="405.22" r="1.2" fill="#c8102e"/>
<circle cx="411.39" cy="405.94" r="1.2" fill="#c8102e"/>
<circle cx="423.28" cy="404.99" r="1.2" fill="#c8102e"/>
<circle cx="392.62" cy="405.31" r="1.2" fill="#c8102e"/>
<circle cx="392.37" cy="406.49" r="1.2" fill="#c8102e"/>
<circle cx="385.94" cy="404.03" r="1.2" fill="#c8102e"/>
<circle cx="393.61" cy="404.61" r="1.2" fill="#c8102e"/>
<circle cx="390.44" cy="405.42" r="1.2" fill="#c8102e"/>
<circle cx="378.65" cy="403.55" r="1.2" fill="#c8102e"/>
<circle cx="387.58" cy="404.55" r="1.2" fill="#c8102e"/>
<circle cx="387.98" cy="404.49" r="1.2" fill="#c8102e"/>
<circle cx="375.55" cy="403.58" r="1.2" fill="#c8102e"/>
<circle cx="384.08" cy="403.67" r="1.2" fill="#c8102e"/>
<circle cx="389.78" cy="404.94" r="1.2" fill="#c8102e"/>
<circle cx="387.97" cy="405.61" r="1.2" fill="#c8102e"/>
<circle cx="377.19" cy="402.67" r="1.2" fill="#c8102e"/>
<circle cx="382.56" cy="404.10" r="1.2" fill="#c8102e"/>
<circle cx="382.86" cy="404.19" r="1.2" fill="#c8102e"/>
<circle cx="378.04" cy="404.52" r="1.2" fill="#c8102e"/>
<circle cx="375.75" cy="402.63" r="1.2" fill="#c8102e"/>
<circle cx="392.77" cy="405.88" r="1.2" fill="#c8102e"/>
<circle cx="374.26" cy="401.03" r="1.2" fill="#c8102e"/>
<circle cx="374.02" cy="401.33" r="1.2" fill="#c8102e"/>
<circle cx="376.39" cy="402.74" r="1.2" fill="#c8102e"/>
<circle cx="483.92" cy="378.73" r="1.4" fill="#c8102e"/>
<circle cx="452.49" cy="347.68" r="1.4" fill="#c8102e"/>
<circle cx="449.84" cy="378.18" r="1.4" fill="#c8102e"/>
<circle cx="466.73" cy="363.28" r="1.4" fill="#c8102e"/>
<circle cx="448.40" cy="376.06" r="1.4" fill="#c8102e"/>
<circle cx="437.53" cy="358.09" r="1.4" fill="#c8102e"/>
<circle cx="469.87" cy="393.03" r="1.4" fill="#c8102e"/>
<circle cx="461.24" cy="354.09" r="1.4" fill="#c8102e"/>
<circle cx="472.94" cy="358.44" r="1.4" fill="#c8102e"/>
<circle cx="471.40" cy="365.20" r="1.4" fill="#c8102e"/>
<circle cx="450.12" cy="380.04" r="1.4" fill="#c8102e"/>
<circle cx="438.74" cy="360.28" r="1.4" fill="#c8102e"/>
<circle cx="458.45" cy="380.95" r="1.4" fill="#c8102e"/>
<circle cx="474.70" cy="370.29" r="1.4" fill="#c8102e"/>
<circle cx="448.77" cy="353.29" r="1.4" fill="#c8102e"/>
<circle cx="475.78" cy="357.70" r="1.4" fill="#c8102e"/>
<circle cx="446.55" cy="353.40" r="1.4" fill="#c8102e"/>
<circle cx="458.27" cy="379.92" r="1.4" fill="#c8102e"/>
<circle cx="457.07" cy="352.78" r="1.4" fill="#c8102e"/>
<circle cx="482.06" cy="383.96" r="1.4" fill="#c8102e"/>
<circle cx="453.79" cy="351.13" r="1.4" fill="#c8102e"/>
<circle cx="484.73" cy="384.78" r="1.4" fill="#c8102e"/>
<circle cx="456.31" cy="362.43" r="1.4" fill="#c8102e"/>
<circle cx="453.92" cy="350.16" r="1.4" fill="#c8102e"/>
<circle cx="447.58" cy="361.40" r="1.4" fill="#c8102e"/>
<circle cx="478.90" cy="389.32" r="1.4" fill="#c8102e"/>
<circle cx="459.05" cy="342.96" r="1.4" fill="#c8102e"/>
<circle cx="461.15" cy="362.36" r="1.4" fill="#c8102e"/>
<circle cx="478.40" cy="386.00" r="1.4" fill="#c8102e"/>
<circle cx="468.47" cy="355.73" r="1.4" fill="#c8102e"/>
<circle cx="473.55" cy="358.99" r="1.4" fill="#c8102e"/>
<circle cx="475.54" cy="394.99" r="1.4" fill="#c8102e"/>
<circle cx="469.33" cy="396.60" r="1.4" fill="#c8102e"/>
<circle cx="438.24" cy="354.03" r="1.4" fill="#c8102e"/>
<circle cx="449.80" cy="365.80" r="1.4" fill="#c8102e"/>
<circle cx="474.66" cy="389.37" r="1.4" fill="#c8102e"/>
<circle cx="476.41" cy="376.44" r="1.4" fill="#c8102e"/>
<circle cx="453.72" cy="359.17" r="1.4" fill="#c8102e"/>
<circle cx="455.45" cy="386.93" r="1.4" fill="#c8102e"/>
<circle cx="394.98" cy="371.64" r="1.4" fill="#c8102e"/>
<circle cx="386.20" cy="374.70" r="1.4" fill="#c8102e"/>
<circle cx="383.83" cy="389.68" r="1.4" fill="#c8102e"/>
<circle cx="381.58" cy="371.13" r="1.4" fill="#c8102e"/>
<circle cx="380.26" cy="386.19" r="1.4" fill="#c8102e"/>
<circle cx="367.31" cy="394.79" r="1.4" fill="#c8102e"/>
<circle cx="374.87" cy="384.11" r="1.4" fill="#c8102e"/>
<circle cx="378.34" cy="390.78" r="1.4" fill="#c8102e"/>
<circle cx="376.29" cy="377.45" r="1.4" fill="#c8102e"/>
<circle cx="372.13" cy="393.53" r="1.4" fill="#c8102e"/>
<circle cx="370.30" cy="399.95" r="1.4" fill="#c8102e"/>
<circle cx="325.1" cy="308.1" r="1.45" fill="#c8102e"/>
<circle cx="353.4" cy="302.4" r="1.45" fill="#c8102e"/>
<circle cx="379.7" cy="296.2" r="1.45" fill="#c8102e"/>
<circle cx="383" cy="300.5" r="1.45" fill="#c8102e"/>
<circle cx="390.9" cy="301.2" r="1.45" fill="#c8102e"/>
<circle cx="370.1" cy="308.5" r="1.45" fill="#c8102e"/>
<circle cx="383" cy="309.1" r="1.45" fill="#c8102e"/>
<circle cx="373" cy="330.8" r="1.45" fill="#c8102e"/>
<circle cx="388" cy="330.8" r="1.45" fill="#c8102e"/>
<circle cx="384.9" cy="335.1" r="1.45" fill="#c8102e"/>
<circle cx="379.1" cy="339.4" r="1.45" fill="#c8102e"/>
<circle cx="382.7" cy="347" r="1.45" fill="#c8102e"/>
<circle cx="398.1" cy="345.5" r="1.45" fill="#c8102e"/>
<circle cx="395.2" cy="349.4" r="1.45" fill="#c8102e"/>
<circle cx="398.1" cy="351.3" r="1.45" fill="#c8102e"/>
<circle cx="387.6" cy="357.6" r="1.45" fill="#c8102e"/>
<circle cx="397.4" cy="359.4" r="1.45" fill="#c8102e"/>
<circle cx="398.4" cy="360.9" r="1.45" fill="#c8102e"/>
<circle cx="396.6" cy="363" r="1.45" fill="#c8102e"/>
<circle cx="386.2" cy="365.2" r="1.45" fill="#c8102e"/>
<circle cx="340.6" cy="366.9" r="1.45" fill="#c8102e"/>
<circle cx="345.2" cy="368.3" r="1.45" fill="#c8102e"/>
<circle cx="364.3" cy="371.2" r="1.45" fill="#c8102e"/>
<circle cx="363.4" cy="373.8" r="1.45" fill="#c8102e"/>
<circle cx="349.9" cy="378.4" r="1.45" fill="#c8102e"/>
<circle cx="348.8" cy="381.7" r="1.45" fill="#c8102e"/>
<circle cx="352.8" cy="383.4" r="1.45" fill="#c8102e"/>
<circle cx="368.6" cy="383.1" r="1.45" fill="#c8102e"/>
<circle cx="350.9" cy="389.8" r="1.45" fill="#c8102e"/>
<circle cx="353.1" cy="393.1" r="1.45" fill="#c8102e"/>
<circle cx="366" cy="392.4" r="1.45" fill="#c8102e"/>
<circle cx="368.1" cy="395.3" r="1.45" fill="#c8102e"/>
<circle cx="362.4" cy="397.4" r="1.45" fill="#c8102e"/>
<circle cx="367.1" cy="399.6" r="1.45" fill="#c8102e"/>
<circle cx="363.6" cy="370.9" r="1.45" fill="#c8102e"/>
<circle cx="362.9" cy="373.8" r="1.45" fill="#c8102e"/>
<circle cx="379.4" cy="370.2" r="1.45" fill="#c8102e"/>
<circle cx="378.7" cy="373.8" r="1.45" fill="#c8102e"/>
<circle cx="375.1" cy="375" r="1.45" fill="#c8102e"/>
<circle cx="372.3" cy="378.1" r="1.45" fill="#c8102e"/>
<circle cx="390.9" cy="373.1" r="1.45" fill="#c8102e"/>
<circle cx="349.3" cy="378.1" r="1.45" fill="#c8102e"/>
<circle cx="351.5" cy="383.1" r="1.45" fill="#c8102e"/>
<circle cx="368.7" cy="383.1" r="1.45" fill="#c8102e"/>
<circle cx="371.5" cy="385.3" r="1.45" fill="#c8102e"/>
<circle cx="380.1" cy="386.7" r="1.45" fill="#c8102e"/>
<circle cx="350.7" cy="390.3" r="1.45" fill="#c8102e"/>
<circle cx="352.9" cy="392.4" r="1.45" fill="#c8102e"/>
<circle cx="369.4" cy="388.9" r="1.45" fill="#c8102e"/>
<circle cx="370.8" cy="390.3" r="1.45" fill="#c8102e"/>
<circle cx="378" cy="390.3" r="1.45" fill="#c8102e"/>
<circle cx="385.2" cy="379.5" r="1.45" fill="#c8102e"/>
<circle cx="386.6" cy="381.7" r="1.45" fill="#c8102e"/>
<circle cx="383.7" cy="383.1" r="1.45" fill="#c8102e"/>
<circle cx="388.8" cy="380.2" r="1.45" fill="#c8102e"/>
<circle cx="390.9" cy="383.1" r="1.45" fill="#c8102e"/>
<circle cx="394.5" cy="382" r="1.45" fill="#c8102e"/>
<circle cx="366.5" cy="392.4" r="1.45" fill="#c8102e"/>
<circle cx="368" cy="395.3" r="1.45" fill="#c8102e"/>
<circle cx="362.2" cy="397.5" r="1.45" fill="#c8102e"/>
<circle cx="367.2" cy="399.6" r="1.45" fill="#c8102e"/>
<circle cx="375.8" cy="394.6" r="1.45" fill="#c8102e"/>
<circle cx="373.7" cy="398.2" r="1.45" fill="#c8102e"/>
<circle cx="400.2" cy="369.5" r="1.45" fill="#c8102e"/>
<circle cx="402.4" cy="371.6" r="1.45" fill="#c8102e"/>
<circle cx="404.5" cy="376.7" r="1.45" fill="#c8102e"/>
<circle cx="406.7" cy="378.8" r="1.45" fill="#c8102e"/>
<circle cx="398.1" cy="345.8" r="1.45" fill="#c8102e"/>
<circle cx="396.6" cy="360.9" r="1.45" fill="#c8102e"/>
<circle cx="398.8" cy="361.6" r="1.45" fill="#c8102e"/>
<circle cx="382.75" cy="346.9" r="1.45" fill="#c8102e"/>
<circle cx="387.5" cy="357.5" r="1.45" fill="#c8102e"/>
<circle cx="386" cy="364.75" r="1.45" fill="#c8102e"/>
<circle cx="397.5" cy="345.6" r="1.45" fill="#c8102e"/>
<circle cx="395" cy="349.4" r="1.45" fill="#c8102e"/>
<circle cx="397.5" cy="350.6" r="1.45" fill="#c8102e"/>
<circle cx="397.5" cy="360" r="1.45" fill="#c8102e"/>
<circle cx="396.9" cy="364.4" r="1.45" fill="#c8102e"/>
<circle cx="379.4" cy="370.6" r="1.45" fill="#c8102e"/>
<circle cx="380.6" cy="374.4" r="1.45" fill="#c8102e"/>
<circle cx="390.6" cy="372.5" r="1.45" fill="#c8102e"/>
<circle cx="388.5" cy="375.6" r="1.45" fill="#c8102e"/>
<circle cx="400" cy="368.1" r="1.45" fill="#c8102e"/>
<circle cx="403.1" cy="370" r="1.45" fill="#c8102e"/>
<circle cx="404.4" cy="373.75" r="1.45" fill="#c8102e"/>
<circle cx="401.25" cy="377.5" r="1.45" fill="#c8102e"/>
<circle cx="405.6" cy="378.1" r="1.45" fill="#c8102e"/>
<circle cx="380" cy="386.25" r="1.45" fill="#c8102e"/>
<circle cx="375" cy="375" r="1.45" fill="#c8102e"/>
<circle cx="437.5" cy="350.6" r="1.45" fill="#c8102e"/>
<circle cx="438.75" cy="359.4" r="1.45" fill="#c8102e"/>
<circle cx="479.9" cy="271.6" r="1.45" fill="#c8102e"/>
<circle cx="466.6" cy="283.2" r="1.45" fill="#c8102e"/>
<circle cx="449.4" cy="287.5" r="1.45" fill="#c8102e"/>
<circle cx="452.4" cy="290.5" r="1.45" fill="#c8102e"/>
<circle cx="463.6" cy="290.8" r="1.45" fill="#c8102e"/>
<circle cx="482.3" cy="287.9" r="1.45" fill="#c8102e"/>
<circle cx="481.1" cy="290.1" r="1.45" fill="#c8102e"/>
<circle cx="472.8" cy="296.7" r="1.45" fill="#c8102e"/>
<circle cx="462.1" cy="309.2" r="1.45" fill="#c8102e"/>
<circle cx="458.4" cy="311.2" r="1.45" fill="#c8102e"/>
<circle cx="454.3" cy="314.2" r="1.45" fill="#c8102e"/>
<circle cx="452.5" cy="318.5" r="1.45" fill="#c8102e"/>
<circle cx="453.9" cy="320.2" r="1.45" fill="#c8102e"/>
<circle cx="461.9" cy="322.5" r="1.45" fill="#c8102e"/>
<circle cx="470.7" cy="324.9" r="1.45" fill="#c8102e"/>
<circle cx="459.8" cy="327.3" r="1.45" fill="#c8102e"/>
<circle cx="443.9" cy="331.2" r="1.45" fill="#c8102e"/>
<circle cx="445.4" cy="333.2" r="1.45" fill="#c8102e"/>
<circle cx="461.5" cy="334.3" r="1.45" fill="#c8102e"/>
<circle cx="452.9" cy="336.7" r="1.45" fill="#c8102e"/>
<circle cx="449.4" cy="338.9" r="1.45" fill="#c8102e"/>
<circle cx="441.6" cy="339.8" r="1.45" fill="#c8102e"/>
<circle cx="459.5" cy="338.1" r="1.45" fill="#c8102e"/>
<circle cx="465.3" cy="340.2" r="1.45" fill="#c8102e"/>
<circle cx="463.3" cy="342.9" r="1.45" fill="#c8102e"/>
<circle cx="469.3" cy="344.1" r="1.45" fill="#c8102e"/>
<circle cx="444.7" cy="344.7" r="1.45" fill="#c8102e"/>
<circle cx="441.9" cy="340" r="1.45" fill="#c8102e"/>
<circle cx="449.4" cy="340.6" r="1.45" fill="#c8102e"/>
<circle cx="463.1" cy="342.5" r="1.45" fill="#c8102e"/>
<circle cx="465.6" cy="340.6" r="1.45" fill="#c8102e"/>
<circle cx="469.4" cy="344.4" r="1.45" fill="#c8102e"/>
<circle cx="445" cy="345" r="1.45" fill="#c8102e"/>
<circle cx="447.5" cy="346.25" r="1.45" fill="#c8102e"/>
<circle cx="451.25" cy="346.9" r="1.45" fill="#c8102e"/>
<circle cx="440.6" cy="346.9" r="1.45" fill="#c8102e"/>
<circle cx="437.5" cy="350.6" r="1.45" fill="#c8102e"/>
<circle cx="445" cy="351.9" r="1.45" fill="#c8102e"/>
<circle cx="448.1" cy="352.5" r="1.45" fill="#c8102e"/>
<circle cx="441.9" cy="353.1" r="1.45" fill="#c8102e"/>
<circle cx="467.5" cy="350.6" r="1.45" fill="#c8102e"/>
<circle cx="470" cy="348.75" r="1.45" fill="#c8102e"/>
<circle cx="443.75" cy="355.6" r="1.45" fill="#c8102e"/>
<circle cx="458.5" cy="355.6" r="1.45" fill="#c8102e"/>
<circle cx="469" cy="356.25" r="1.45" fill="#c8102e"/>
<circle cx="438.1" cy="359.4" r="1.45" fill="#c8102e"/>
<circle cx="450" cy="359.4" r="1.45" fill="#c8102e"/>
<circle cx="447.5" cy="362.5" r="1.45" fill="#c8102e"/>
<circle cx="445.6" cy="364.4" r="1.45" fill="#c8102e"/>
<circle cx="455.6" cy="362.5" r="1.45" fill="#c8102e"/>
<circle cx="458.1" cy="363.1" r="1.45" fill="#c8102e"/>
<circle cx="479.6" cy="360.25" r="1.45" fill="#c8102e"/>
<circle cx="453.1" cy="366.25" r="1.45" fill="#c8102e"/>
<circle cx="476.25" cy="366.25" r="1.45" fill="#c8102e"/>
<circle cx="478.1" cy="369.4" r="1.45" fill="#c8102e"/>
<circle cx="456.9" cy="370.6" r="1.45" fill="#c8102e"/>
<circle cx="449.4" cy="371.9" r="1.45" fill="#c8102e"/>
<circle cx="465" cy="372.25" r="1.45" fill="#c8102e"/>
<circle cx="451.9" cy="373.1" r="1.45" fill="#c8102e"/>
<circle cx="473.1" cy="375" r="1.45" fill="#c8102e"/>
<circle cx="486.25" cy="376.9" r="1.45" fill="#c8102e"/>
<circle cx="458.1" cy="375.6" r="1.45" fill="#c8102e"/>
<circle cx="478.1" cy="377.25" r="1.45" fill="#c8102e"/>
<circle cx="446.9" cy="376.9" r="1.45" fill="#c8102e"/>
<circle cx="450.6" cy="376.9" r="1.45" fill="#c8102e"/>
<circle cx="455" cy="380" r="1.45" fill="#c8102e"/>
<circle cx="461.9" cy="380" r="1.45" fill="#c8102e"/>
<circle cx="468.1" cy="380.6" r="1.45" fill="#c8102e"/>
<circle cx="485" cy="383.1" r="1.45" fill="#c8102e"/>
<circle cx="466.25" cy="383.75" r="1.45" fill="#c8102e"/>
<circle cx="475" cy="385" r="1.45" fill="#c8102e"/>
<circle cx="478.75" cy="386.25" r="1.45" fill="#c8102e"/>
<circle cx="468.75" cy="388.1" r="1.45" fill="#c8102e"/>
<circle cx="471.25" cy="389.4" r="1.45" fill="#c8102e"/>
<circle cx="463.75" cy="389.4" r="1.45" fill="#c8102e"/>
<circle cx="476.25" cy="391.9" r="1.45" fill="#c8102e"/>
<circle cx="474.4" cy="393.75" r="1.45" fill="#c8102e"/>
<circle cx="467.5" cy="396.9" r="1.45" fill="#c8102e"/>
<circle cx="471.9" cy="397.5" r="1.45" fill="#c8102e"/>
<circle cx="466.25" cy="399.4" r="1.45" fill="#c8102e"/>
<circle cx="468.75" cy="400" r="1.45" fill="#c8102e"/>
<circle cx="385.8" cy="365.4" r="1.45" fill="#c8102e"/>
<circle cx="363.5" cy="372.3" r="1.45" fill="#c8102e"/>
<circle cx="364.2" cy="373.8" r="1.45" fill="#c8102e"/>
<circle cx="379.6" cy="370.8" r="1.45" fill="#c8102e"/>
<circle cx="381.2" cy="374.6" r="1.45" fill="#c8102e"/>
<circle cx="374.2" cy="375.4" r="1.45" fill="#c8102e"/>
<circle cx="372.7" cy="377.7" r="1.45" fill="#c8102e"/>
<circle cx="390.4" cy="373.1" r="1.45" fill="#c8102e"/>
<circle cx="388.1" cy="376.2" r="1.45" fill="#c8102e"/>
<circle cx="385.8" cy="380" r="1.45" fill="#c8102e"/>
<circle cx="388.8" cy="381.5" r="1.45" fill="#c8102e"/>
<circle cx="391.2" cy="380.8" r="1.45" fill="#c8102e"/>
<circle cx="393.5" cy="383" r="1.45" fill="#c8102e"/>
<circle cx="368.8" cy="383" r="1.45" fill="#c8102e"/>
<circle cx="371.9" cy="384.6" r="1.45" fill="#c8102e"/>
<circle cx="380.4" cy="386.9" r="1.45" fill="#c8102e"/>
<circle cx="385.8" cy="387.7" r="1.45" fill="#c8102e"/>
<circle cx="386.5" cy="390.8" r="1.45" fill="#c8102e"/>
<circle cx="371.9" cy="389.2" r="1.45" fill="#c8102e"/>
<circle cx="365.8" cy="392.3" r="1.45" fill="#c8102e"/>
<circle cx="368.1" cy="394.6" r="1.45" fill="#c8102e"/>
<circle cx="376.5" cy="390.8" r="1.45" fill="#c8102e"/>
<circle cx="379.6" cy="391.5" r="1.45" fill="#c8102e"/>
<circle cx="381.9" cy="392.3" r="1.45" fill="#c8102e"/>
<circle cx="362.7" cy="396.9" r="1.45" fill="#c8102e"/>
<circle cx="367.3" cy="400" r="1.45" fill="#c8102e"/>
<circle cx="349.6" cy="378.5" r="1.45" fill="#c8102e"/>
<circle cx="351.9" cy="383" r="1.45" fill="#c8102e"/>
<circle cx="350.4" cy="390" r="1.45" fill="#c8102e"/>
<circle cx="352.4" cy="393.1" r="1.45" fill="#c8102e"/>
<circle cx="398" cy="360.8" r="1.45" fill="#c8102e"/>
<circle cx="399.6" cy="368.5" r="1.45" fill="#c8102e"/>
<circle cx="402.7" cy="369.2" r="1.45" fill="#c8102e"/>
<circle cx="403.5" cy="372.3" r="1.45" fill="#c8102e"/>
<circle cx="402.7" cy="374.6" r="1.45" fill="#c8102e"/>
<circle cx="405.8" cy="378.5" r="1.45" fill="#c8102e"/>
<circle cx="491.8" cy="365.3" r="1.45" fill="#c8102e"/>
<circle cx="502.2" cy="382.6" r="1.45" fill="#c8102e"/>
<circle cx="484.9" cy="383.1" r="1.45" fill="#c8102e"/>
<circle cx="479.7" cy="360.6" r="1.45" fill="#c8102e"/>
<circle cx="476.2" cy="366.5" r="1.45" fill="#c8102e"/>
<circle cx="478" cy="369.6" r="1.45" fill="#c8102e"/>
<circle cx="486.6" cy="377.1" r="1.45" fill="#c8102e"/>
<circle cx="475" cy="385.2" r="1.45" fill="#c8102e"/>
<circle cx="478.8" cy="386.6" r="1.45" fill="#c8102e"/>
<circle cx="476.2" cy="392.1" r="1.45" fill="#c8102e"/>
<circle cx="475" cy="393.8" r="1.45" fill="#c8102e"/>
<circle cx="471.9" cy="396.4" r="1.45" fill="#c8102e"/>
<circle cx="466.7" cy="399" r="1.45" fill="#c8102e"/>
<circle cx="469.3" cy="399.9" r="1.45" fill="#c8102e"/>
<line x1="395.9" y1="273.5" x2="395.9" y2="406.2" stroke="#3a3a3c" stroke-width="1.1" stroke-dasharray="4.5 2.3"/>
<line x1="442.2" y1="273.5" x2="442.2" y2="406.2" stroke="#3a3a3c" stroke-width="1.1" stroke-dasharray="4.5 2.3"/>
<text x="379.75" y="436.25" font-size="10.6" text-anchor="start" font-weight="normal" fill="#231f20" stroke="#231f20" stroke-width="0.3" textLength="60.5" lengthAdjust="spacingAndGlyphs" >Log2 fold change</text>
<text transform="translate(281.4,331.6) rotate(-90)" x="0" y="0" font-size="10" text-anchor="middle" fill="#231f20" textLength="90.40000000000003" lengthAdjust="spacingAndGlyphs">-Log10(adjusted p-value)</text>
<text x="365.8" y="290.9" font-size="9.15" text-anchor="start" font-weight="normal" fill="#231f20" stroke="#231f20" stroke-width="0.3" textLength="28.0" lengthAdjust="spacingAndGlyphs" >Adgrg1</text>
<text x="355.8" y="302.8" font-size="9.15" text-anchor="start" font-weight="normal" fill="#231f20" stroke="#231f20" stroke-width="0.3" textLength="21.9" lengthAdjust="spacingAndGlyphs" >Elavl2</text>
<text x="397" y="303.4" font-size="9.15" text-anchor="start" font-weight="normal" fill="#231f20" stroke="#231f20" stroke-width="0.3" textLength="16.9" lengthAdjust="spacingAndGlyphs" >Mpo</text>
<text x="313.6" y="318.1" font-size="9.15" text-anchor="start" font-weight="normal" fill="#231f20" stroke="#231f20" stroke-width="0.3" textLength="16.2" lengthAdjust="spacingAndGlyphs" >Frzb</text>
<text x="334.4" y="311.7" font-size="9.15" text-anchor="start" font-weight="normal" fill="#231f20" stroke="#231f20" stroke-width="0.3" textLength="24.4" lengthAdjust="spacingAndGlyphs" >Pde3b</text>
<text x="386.9" y="316" font-size="9.15" text-anchor="start" font-weight="normal" fill="#231f20" stroke="#231f20" stroke-width="0.3" textLength="25.5" lengthAdjust="spacingAndGlyphs" >Muc13</text>
<text x="357.9" y="318.6" font-size="9.15" text-anchor="start" font-weight="normal" fill="#231f20" stroke="#231f20" stroke-width="0.3" textLength="25.1" lengthAdjust="spacingAndGlyphs" >Bmpr2</text>
<text x="351.9" y="331.8" font-size="9.15" text-anchor="start" font-weight="normal" fill="#231f20" stroke="#231f20" stroke-width="0.3" textLength="18.2" lengthAdjust="spacingAndGlyphs" >Sox4</text>
<text x="346.4" y="340.8" font-size="9.15" text-anchor="start" font-weight="normal" fill="#231f20" stroke="#231f20" stroke-width="0.3" textLength="27.3" lengthAdjust="spacingAndGlyphs" >Nt5dc2</text>
<text x="360.1" y="349.8" font-size="9.15" text-anchor="start" font-weight="normal" fill="#231f20" stroke="#231f20" stroke-width="0.3" textLength="17.6" lengthAdjust="spacingAndGlyphs" >Msi2</text>
<text x="363.6" y="357.6" font-size="9.15" text-anchor="start" font-weight="normal" fill="#231f20" stroke="#231f20" stroke-width="0.3" textLength="20.1" lengthAdjust="spacingAndGlyphs" >Hpgd</text>
<text x="347.2" y="367.3" font-size="9.15" text-anchor="start" font-weight="normal" fill="#231f20" stroke="#231f20" stroke-width="0.3" textLength="29.6" lengthAdjust="spacingAndGlyphs" >Fam20a</text>
<text x="318.6" y="369.2" font-size="9.15" text-anchor="start" font-weight="normal" fill="#231f20" stroke="#231f20" stroke-width="0.3" textLength="17.3" lengthAdjust="spacingAndGlyphs" >Eya1</text>
<text x="321.5" y="385.2" font-size="9.15" text-anchor="start" font-weight="normal" fill="#231f20" stroke="#231f20" stroke-width="0.3" textLength="21.5" lengthAdjust="spacingAndGlyphs" >Meis1</text>
<text x="326.3" y="393.6" font-size="9.15" text-anchor="start" font-weight="normal" fill="#231f20" stroke="#231f20" stroke-width="0.3" textLength="21.0" lengthAdjust="spacingAndGlyphs" >Trgc4</text>
<text x="337.6" y="402.5" font-size="9.15" text-anchor="start" font-weight="normal" fill="#231f20" stroke="#231f20" stroke-width="0.3" textLength="19.8" lengthAdjust="spacingAndGlyphs" >Tacr1</text>
<rect x="9" y="489.1" width="95" height="95.10000000000005" fill="#f1f1f1"/>
<text x="29.1" y="492.6" font-size="3.6" font-weight="bold" fill="#333" textLength="55.4" lengthAdjust="spacingAndGlyphs">Enrichment plot: NPM1C DOWN</text>
<rect x="20.7" y="493.8" width="81.6" height="77.59999999999997" fill="#fff" stroke="#d0d0d0" stroke-width="0.4"/>
<line x1="20.7" y1="497.90" x2="101.1" y2="497.90" stroke="#eeeeee" stroke-width="0.4"/>
<line x1="20.7" y1="502.00" x2="101.1" y2="502.00" stroke="#eeeeee" stroke-width="0.4"/>
<line x1="20.7" y1="506.10" x2="101.1" y2="506.10" stroke="#eeeeee" stroke-width="0.4"/>
<line x1="20.7" y1="510.20" x2="101.1" y2="510.20" stroke="#eeeeee" stroke-width="0.4"/>
<line x1="20.7" y1="514.30" x2="101.1" y2="514.30" stroke="#eeeeee" stroke-width="0.4"/>
<line x1="20.7" y1="518.40" x2="101.1" y2="518.40" stroke="#eeeeee" stroke-width="0.4"/>
<line x1="20.7" y1="522.50" x2="101.1" y2="522.50" stroke="#eeeeee" stroke-width="0.4"/>
<line x1="20.7" y1="526.60" x2="101.1" y2="526.60" stroke="#eeeeee" stroke-width="0.4"/>
<line x1="35.06" y1="493.8" x2="35.06" y2="530.7" stroke="#eeeeee" stroke-width="0.4"/>
<line x1="35.06" y1="546.2" x2="35.06" y2="571.4" stroke="#eeeeee" stroke-width="0.4"/>
<line x1="49.41" y1="493.8" x2="49.41" y2="530.7" stroke="#eeeeee" stroke-width="0.4"/>
<line x1="49.41" y1="546.2" x2="49.41" y2="571.4" stroke="#eeeeee" stroke-width="0.4"/>
<line x1="63.77" y1="493.8" x2="63.77" y2="530.7" stroke="#eeeeee" stroke-width="0.4"/>
<line x1="63.77" y1="546.2" x2="63.77" y2="571.4" stroke="#eeeeee" stroke-width="0.4"/>
<line x1="78.13" y1="493.8" x2="78.13" y2="530.7" stroke="#eeeeee" stroke-width="0.4"/>
<line x1="78.13" y1="546.2" x2="78.13" y2="571.4" stroke="#eeeeee" stroke-width="0.4"/>
<line x1="20.7" y1="530.7" x2="101.1" y2="530.7" stroke="#bbb" stroke-width="0.4"/>
<line x1="20.7" y1="543.4" x2="101.1" y2="543.4" stroke="#bbb" stroke-width="0.4"/>
<text x="19.5" y="496.90" font-size="2.6" text-anchor="end" fill="#555">0.6</text>
<text x="19.5" y="500.96" font-size="2.6" text-anchor="end" fill="#555">0.5</text>
<text x="19.5" y="505.02" font-size="2.6" text-anchor="end" fill="#555">0.4</text>
<text x="19.5" y="509.09" font-size="2.6" text-anchor="end" fill="#555">0.3</text>
<text x="19.5" y="513.15" font-size="2.6" text-anchor="end" fill="#555">0.2</text>
<text x="19.5" y="517.21" font-size="2.6" text-anchor="end" fill="#555">0.1</text>
<text x="19.5" y="521.27" font-size="2.6" text-anchor="end" fill="#555">0.0</text>
<text x="19.5" y="525.34" font-size="2.6" text-anchor="end" fill="#555">-0.1</text>
<text x="19.5" y="529.40" font-size="2.6" text-anchor="end" fill="#555">-0.2</text>
<text x="19.3" y="550.10" font-size="2.6" text-anchor="end" fill="#555">4</text>
<text x="19.3" y="554.40" font-size="2.6" text-anchor="end" fill="#555">2</text>
<text x="19.3" y="558.70" font-size="2.6" text-anchor="end" fill="#555">0</text>
<text x="19.3" y="563.00" font-size="2.6" text-anchor="end" fill="#555">-2</text>
<text x="19.3" y="567.30" font-size="2.6" text-anchor="end" fill="#555">-4</text>
<text transform="translate(14.3,512) rotate(-90)" font-size="2.9" text-anchor="middle" font-weight="bold" fill="#555">Enrichment score (ES)</text>
<text transform="translate(14.3,559) rotate(-90)" font-size="2.9" text-anchor="middle" font-weight="bold" fill="#555">Ranked list metric (PreRanked)</text>
<rect x="20.70" y="531.6" width="4.02" height="11.80" fill="#000" fill-opacity="0.59"/>
<rect x="26.17" y="531.6" width="1.93" height="11.80" fill="#000" fill-opacity="0.56"/>
<rect x="28.10" y="531.6" width="3.86" height="11.80" fill="#000" fill-opacity="0.32"/>
<rect x="33.56" y="531.6" width="0.80" height="11.80" fill="#000" fill-opacity="0.39"/>
<rect x="35.17" y="531.6" width="0.80" height="11.80" fill="#000" fill-opacity="0.17"/>
<rect x="44.82" y="531.6" width="1.61" height="11.80" fill="#000" fill-opacity="0.28"/>
<rect x="50.45" y="531.6" width="1.61" height="11.80" fill="#000" fill-opacity="0.42"/>
<rect x="55.27" y="531.6" width="1.61" height="11.80" fill="#000" fill-opacity="0.32"/>
<rect x="60.10" y="531.6" width="0.80" height="11.80" fill="#000" fill-opacity="0.28"/>
<rect x="65.32" y="531.6" width="1.61" height="11.80" fill="#000" fill-opacity="0.24"/>
<rect x="75.37" y="531.6" width="1.61" height="11.80" fill="#000" fill-opacity="0.35"/>
<rect x="81.00" y="531.6" width="0.80" height="11.80" fill="#000" fill-opacity="0.24"/>
<rect x="86.63" y="531.6" width="3.22" height="11.80" fill="#000" fill-opacity="0.24"/>
<rect x="92.26" y="531.6" width="2.41" height="11.80" fill="#000" fill-opacity="0.52"/>
<rect x="95.47" y="531.6" width="3.22" height="11.80" fill="#000" fill-opacity="0.56"/>
<rect x="20.70" y="543.8" width="12.86" height="2.900000000000091" fill="#e8202a"/>
<rect x="33.56" y="543.8" width="45.83" height="2.900000000000091" fill="#f4b8d8"/>
<rect x="79.39" y="543.8" width="14.47" height="2.900000000000091" fill="#c8c8f4"/>
<rect x="93.86" y="543.8" width="4.82" height="2.900000000000091" fill="#3030d8"/>
<text x="22.7" y="549.1" font-size="2.6" fill="#e03030" textLength="26" lengthAdjust="spacingAndGlyphs">'na_pos' (positively correlated)</text>
<text x="62.507999999999996" y="570.4" font-size="2.6" fill="#4040e0" textLength="26" lengthAdjust="spacingAndGlyphs">'na_neg' (negatively correlated)</text>
<path d="M20.7,554.9000000000001 C23.7,556.3000000000001 28.7,557.0 34.367999999999995,557.2 L20.7,557.5 Z" fill="#aaa" stroke="#999" stroke-width="0.3"/>
<line x1="34.367999999999995" y1="557.2" x2="78.588" y2="557.2" stroke="#e2e2e2" stroke-width="0.4"/>
<path d="M78.588,557.2 L98.6,557.2 L98.89999999999999,569.1999999999999 L98.3,559.6 C95.1,558.8000000000001 89.03999999999999,558.0 78.588,557.7 Z" fill="#a8a8a8" stroke="#999" stroke-width="0.3"/>
<text x="25.7" y="560.8000000000001" font-size="2.4" fill="#555" textLength="17" lengthAdjust="spacingAndGlyphs">Zero cross at 18785</text>
<text x="20.70" y="574.0" font-size="2.6" text-anchor="middle" fill="#555">0</text>
<text x="35.06" y="574.0" font-size="2.6" text-anchor="middle" fill="#555">10,000</text>
<text x="49.41" y="574.0" font-size="2.6" text-anchor="middle" fill="#555">20,000</text>
<text x="63.77" y="574.0" font-size="2.6" text-anchor="middle" fill="#555">30,000</text>
<text x="78.13" y="574.0" font-size="2.6" text-anchor="middle" fill="#555">40,000</text>
<text x="92.49" y="574.0" font-size="2.6" text-anchor="middle" fill="#555">50,000</text>
<text x="61.70" y="577.0" font-size="3.0" text-anchor="middle" font-weight="bold" fill="#555">Rank in Ordered Dataset</text>
<rect x="23.7" y="579.9000000000001" width="66.6" height="4.3" fill="#fff" stroke="#aaa" stroke-width="0.5"/>
<line x1="24.7" y1="582.0" x2="27.7" y2="582.0" stroke="#6cd95c" stroke-width="0.8"/>
<text x="28.7" y="582.9000000000001" font-size="2.6" fill="#555">Enrichment profile</text>
<text x="47.7" y="582.9000000000001" font-size="2.6" fill="#555">— Hits</text>
<text x="61.7" y="582.9000000000001" font-size="2.6" fill="#555">— Ranking metric scores</text>
<polyline points="20.90,510.00 21.20,504.00 21.60,501.40 22.90,498.20 25.40,497.40 27.00,496.20 28.60,495.70 31.10,496.90 34.30,498.20 83.40,524.30 88.30,527.60 91.60,528.90 94.80,528.40 96.50,526.80 98.10,523.50 98.90,521.10" fill="none" stroke="#6cd95c" stroke-width="1.5" stroke-linejoin="round"/>
<text x="24.5" y="509.9" font-size="9.1" text-anchor="start" font-weight="normal" fill="#2a2a2a" stroke="#2a2a2a" stroke-width="0.22" textLength="74.4" lengthAdjust="spacingAndGlyphs" >Normalized ES 1.216</text>
<text x="24.5" y="519.3" font-size="9.1" text-anchor="start" font-weight="normal" fill="#2a2a2a" stroke="#2a2a2a" stroke-width="0.22" textLength="40.3" lengthAdjust="spacingAndGlyphs" >FDR qvalue</text>
<text x="79.5" y="519.3" font-size="9.1" text-anchor="start" font-weight="normal" fill="#2a2a2a" stroke="#2a2a2a" stroke-width="0.22" textLength="19.4" lengthAdjust="spacingAndGlyphs" >0.136</text>
<rect x="124.9" y="489.1" width="95.1" height="95.10000000000005" fill="#f1f1f1"/>
<text x="147" y="492.6" font-size="3.6" font-weight="bold" fill="#333" textLength="50.5" lengthAdjust="spacingAndGlyphs">Enrichment plot: MA9 DOWN</text>
<rect x="136.7" y="493.8" width="81.60000000000001" height="77.59999999999997" fill="#fff" stroke="#d0d0d0" stroke-width="0.4"/>
<line x1="136.7" y1="497.90" x2="217.1" y2="497.90" stroke="#eeeeee" stroke-width="0.4"/>
<line x1="136.7" y1="502.00" x2="217.1" y2="502.00" stroke="#eeeeee" stroke-width="0.4"/>
<line x1="136.7" y1="506.10" x2="217.1" y2="506.10" stroke="#eeeeee" stroke-width="0.4"/>
<line x1="136.7" y1="510.20" x2="217.1" y2="510.20" stroke="#eeeeee" stroke-width="0.4"/>
<line x1="136.7" y1="514.30" x2="217.1" y2="514.30" stroke="#eeeeee" stroke-width="0.4"/>
<line x1="136.7" y1="518.40" x2="217.1" y2="518.40" stroke="#eeeeee" stroke-width="0.4"/>
<line x1="136.7" y1="522.50" x2="217.1" y2="522.50" stroke="#eeeeee" stroke-width="0.4"/>
<line x1="136.7" y1="526.60" x2="217.1" y2="526.60" stroke="#eeeeee" stroke-width="0.4"/>
<line x1="151.06" y1="493.8" x2="151.06" y2="530.7" stroke="#eeeeee" stroke-width="0.4"/>
<line x1="151.06" y1="546.2" x2="151.06" y2="571.4" stroke="#eeeeee" stroke-width="0.4"/>
<line x1="165.41" y1="493.8" x2="165.41" y2="530.7" stroke="#eeeeee" stroke-width="0.4"/>
<line x1="165.41" y1="546.2" x2="165.41" y2="571.4" stroke="#eeeeee" stroke-width="0.4"/>
<line x1="179.77" y1="493.8" x2="179.77" y2="530.7" stroke="#eeeeee" stroke-width="0.4"/>
<line x1="179.77" y1="546.2" x2="179.77" y2="571.4" stroke="#eeeeee" stroke-width="0.4"/>
<line x1="194.13" y1="493.8" x2="194.13" y2="530.7" stroke="#eeeeee" stroke-width="0.4"/>
<line x1="194.13" y1="546.2" x2="194.13" y2="571.4" stroke="#eeeeee" stroke-width="0.4"/>
<line x1="136.7" y1="530.7" x2="217.1" y2="530.7" stroke="#bbb" stroke-width="0.4"/>
<line x1="136.7" y1="543.4" x2="217.1" y2="543.4" stroke="#bbb" stroke-width="0.4"/>
<text x="135.5" y="496.90" font-size="2.6" text-anchor="end" fill="#555">0.6</text>
<text x="135.5" y="500.96" font-size="2.6" text-anchor="end" fill="#555">0.5</text>
<text x="135.5" y="505.02" font-size="2.6" text-anchor="end" fill="#555">0.4</text>
<text x="135.5" y="509.09" font-size="2.6" text-anchor="end" fill="#555">0.3</text>
<text x="135.5" y="513.15" font-size="2.6" text-anchor="end" fill="#555">0.2</text>
<text x="135.5" y="517.21" font-size="2.6" text-anchor="end" fill="#555">0.1</text>
<text x="135.5" y="521.27" font-size="2.6" text-anchor="end" fill="#555">0.0</text>
<text x="135.5" y="525.34" font-size="2.6" text-anchor="end" fill="#555">-0.1</text>
<text x="135.5" y="529.40" font-size="2.6" text-anchor="end" fill="#555">-0.2</text>
<text x="135.29999999999998" y="550.10" font-size="2.6" text-anchor="end" fill="#555">4</text>
<text x="135.29999999999998" y="554.40" font-size="2.6" text-anchor="end" fill="#555">2</text>
<text x="135.29999999999998" y="558.70" font-size="2.6" text-anchor="end" fill="#555">0</text>
<text x="135.29999999999998" y="563.00" font-size="2.6" text-anchor="end" fill="#555">-2</text>
<text x="135.29999999999998" y="567.30" font-size="2.6" text-anchor="end" fill="#555">-4</text>
<text transform="translate(130.20000000000002,512) rotate(-90)" font-size="2.9" text-anchor="middle" font-weight="bold" fill="#555">Enrichment score (ES)</text>
<text transform="translate(130.20000000000002,559) rotate(-90)" font-size="2.9" text-anchor="middle" font-weight="bold" fill="#555">Ranked list metric (PreRanked)</text>
<rect x="136.70" y="531.6" width="2.97" height="11.80" fill="#000" fill-opacity="0.59"/>
<rect x="142.17" y="531.6" width="4.18" height="11.80" fill="#000" fill-opacity="0.35"/>
<rect x="147.96" y="531.6" width="1.61" height="11.80" fill="#000" fill-opacity="0.32"/>
<rect x="156.80" y="531.6" width="1.61" height="11.80" fill="#000" fill-opacity="0.28"/>
<rect x="160.02" y="531.6" width="0.80" height="11.80" fill="#000" fill-opacity="0.24"/>
<rect x="164.84" y="531.6" width="0.80" height="11.80" fill="#000" fill-opacity="0.21"/>
<rect x="175.69" y="531.6" width="1.61" height="11.80" fill="#000" fill-opacity="0.28"/>
<rect x="178.91" y="531.6" width="0.80" height="11.80" fill="#000" fill-opacity="0.24"/>
<rect x="198.61" y="531.6" width="1.61" height="11.80" fill="#000" fill-opacity="0.49"/>
<rect x="203.43" y="531.6" width="1.61" height="11.80" fill="#000" fill-opacity="0.28"/>
<rect x="206.65" y="531.6" width="1.61" height="11.80" fill="#000" fill-opacity="0.49"/>
<rect x="209.06" y="531.6" width="3.22" height="11.80" fill="#000" fill-opacity="0.49"/>
<rect x="136.70" y="543.8" width="12.86" height="2.900000000000091" fill="#e8202a"/>
<rect x="149.56" y="543.8" width="46.23" height="2.900000000000091" fill="#f4b8d8"/>
<rect x="195.79" y="543.8" width="13.27" height="2.900000000000091" fill="#c8c8f4"/>
<rect x="209.06" y="543.8" width="4.82" height="2.900000000000091" fill="#3030d8"/>
<text x="138.7" y="549.1" font-size="2.6" fill="#e03030" textLength="26" lengthAdjust="spacingAndGlyphs">'na_pos' (positively correlated)</text>
<text x="178.50799999999998" y="570.4" font-size="2.6" fill="#4040e0" textLength="26" lengthAdjust="spacingAndGlyphs">'na_neg' (negatively correlated)</text>
<path d="M136.7,554.9000000000001 C139.7,556.3000000000001 144.7,557.0 150.368,557.2 L136.7,557.5 Z" fill="#aaa" stroke="#999" stroke-width="0.3"/>
<line x1="150.368" y1="557.2" x2="194.588" y2="557.2" stroke="#e2e2e2" stroke-width="0.4"/>
<path d="M194.588,557.2 L214.6,557.2 L214.9,569.1999999999999 L214.29999999999998,559.6 C211.1,558.8000000000001 205.04,558.0 194.588,557.7 Z" fill="#a8a8a8" stroke="#999" stroke-width="0.3"/>
<text x="141.7" y="560.8000000000001" font-size="2.4" fill="#555" textLength="17" lengthAdjust="spacingAndGlyphs">Zero cross at 18785</text>
<text x="136.70" y="574.0" font-size="2.6" text-anchor="middle" fill="#555">0</text>
<text x="151.06" y="574.0" font-size="2.6" text-anchor="middle" fill="#555">10,000</text>
<text x="165.41" y="574.0" font-size="2.6" text-anchor="middle" fill="#555">20,000</text>
<text x="179.77" y="574.0" font-size="2.6" text-anchor="middle" fill="#555">30,000</text>
<text x="194.13" y="574.0" font-size="2.6" text-anchor="middle" fill="#555">40,000</text>
<text x="208.49" y="574.0" font-size="2.6" text-anchor="middle" fill="#555">50,000</text>
<text x="177.70" y="577.0" font-size="3.0" text-anchor="middle" font-weight="bold" fill="#555">Rank in Ordered Dataset</text>
<rect x="139.6" y="579.9000000000001" width="66.6" height="4.3" fill="#fff" stroke="#aaa" stroke-width="0.5"/>
<line x1="140.6" y1="582.0" x2="143.6" y2="582.0" stroke="#6cd95c" stroke-width="0.8"/>
<text x="144.6" y="582.9000000000001" font-size="2.6" fill="#555">Enrichment profile</text>
<text x="163.6" y="582.9000000000001" font-size="2.6" fill="#555">— Hits</text>
<text x="177.6" y="582.9000000000001" font-size="2.6" fill="#555">— Ranking metric scores</text>
<polyline points="136.90,517.80 137.60,508.00 138.90,499.80 140.20,496.20 142.20,496.90 145.40,496.90 148.70,497.80 199.40,526.00 204.30,528.90 206.70,529.20 209.20,527.60 210.80,525.10 212.10,522.70 214.10,523.50" fill="none" stroke="#6cd95c" stroke-width="1.5" stroke-linejoin="round"/>
<text x="141.4" y="509.9" font-size="9.1" text-anchor="start" font-weight="normal" fill="#2a2a2a" stroke="#2a2a2a" stroke-width="0.22" textLength="73.5" lengthAdjust="spacingAndGlyphs" >Normalized ES 1.248</text>
<text x="141.4" y="519.3" font-size="9.1" text-anchor="start" font-weight="normal" fill="#2a2a2a" stroke="#2a2a2a" stroke-width="0.22" textLength="40.3" lengthAdjust="spacingAndGlyphs" >FDR qvalue</text>
<text x="195.5" y="519.3" font-size="9.1" text-anchor="start" font-weight="normal" fill="#2a2a2a" stroke="#2a2a2a" stroke-width="0.22" textLength="19.4" lengthAdjust="spacingAndGlyphs" >0.191</text>
<rect x="283" y="488.70000000000005" width="94.5" height="95.29999999999998" fill="#f1f1f1"/>
<text x="303.2" y="492.20000000000005" font-size="3.6" font-weight="bold" fill="#333" textLength="54.30000000000001" lengthAdjust="spacingAndGlyphs">Enrichment plot: NPM1C DOWN</text>
<rect x="294.3" y="493.40000000000003" width="81.2" height="77.59999999999997" fill="#fff" stroke="#d0d0d0" stroke-width="0.4"/>
<line x1="294.3" y1="497.50" x2="374.3" y2="497.50" stroke="#eeeeee" stroke-width="0.4"/>
<line x1="294.3" y1="501.60" x2="374.3" y2="501.60" stroke="#eeeeee" stroke-width="0.4"/>
<line x1="294.3" y1="505.70" x2="374.3" y2="505.70" stroke="#eeeeee" stroke-width="0.4"/>
<line x1="294.3" y1="509.80" x2="374.3" y2="509.80" stroke="#eeeeee" stroke-width="0.4"/>
<line x1="294.3" y1="513.90" x2="374.3" y2="513.90" stroke="#eeeeee" stroke-width="0.4"/>
<line x1="294.3" y1="518.00" x2="374.3" y2="518.00" stroke="#eeeeee" stroke-width="0.4"/>
<line x1="294.3" y1="522.10" x2="374.3" y2="522.10" stroke="#eeeeee" stroke-width="0.4"/>
<line x1="294.3" y1="526.20" x2="374.3" y2="526.20" stroke="#eeeeee" stroke-width="0.4"/>
<line x1="308.59" y1="493.40000000000003" x2="308.59" y2="530.3000000000001" stroke="#eeeeee" stroke-width="0.4"/>
<line x1="308.59" y1="545.8000000000001" x2="308.59" y2="571.0" stroke="#eeeeee" stroke-width="0.4"/>
<line x1="322.87" y1="493.40000000000003" x2="322.87" y2="530.3000000000001" stroke="#eeeeee" stroke-width="0.4"/>
<line x1="322.87" y1="545.8000000000001" x2="322.87" y2="571.0" stroke="#eeeeee" stroke-width="0.4"/>
<line x1="337.16" y1="493.40000000000003" x2="337.16" y2="530.3000000000001" stroke="#eeeeee" stroke-width="0.4"/>
<line x1="337.16" y1="545.8000000000001" x2="337.16" y2="571.0" stroke="#eeeeee" stroke-width="0.4"/>
<line x1="351.44" y1="493.40000000000003" x2="351.44" y2="530.3000000000001" stroke="#eeeeee" stroke-width="0.4"/>
<line x1="351.44" y1="545.8000000000001" x2="351.44" y2="571.0" stroke="#eeeeee" stroke-width="0.4"/>
<line x1="294.3" y1="530.3000000000001" x2="374.3" y2="530.3000000000001" stroke="#bbb" stroke-width="0.4"/>
<line x1="294.3" y1="543.0" x2="374.3" y2="543.0" stroke="#bbb" stroke-width="0.4"/>
<text x="293.1" y="496.50" font-size="2.6" text-anchor="end" fill="#555">0.6</text>
<text x="293.1" y="500.56" font-size="2.6" text-anchor="end" fill="#555">0.5</text>
<text x="293.1" y="504.62" font-size="2.6" text-anchor="end" fill="#555">0.4</text>
<text x="293.1" y="508.69" font-size="2.6" text-anchor="end" fill="#555">0.3</text>
<text x="293.1" y="512.75" font-size="2.6" text-anchor="end" fill="#555">0.2</text>
<text x="293.1" y="516.81" font-size="2.6" text-anchor="end" fill="#555">0.1</text>
<text x="293.1" y="520.88" font-size="2.6" text-anchor="end" fill="#555">0.0</text>
<text x="293.1" y="524.94" font-size="2.6" text-anchor="end" fill="#555">-0.1</text>
<text x="293.1" y="529.00" font-size="2.6" text-anchor="end" fill="#555">-0.2</text>
<text x="292.90000000000003" y="549.70" font-size="2.6" text-anchor="end" fill="#555">4</text>
<text x="292.90000000000003" y="554.00" font-size="2.6" text-anchor="end" fill="#555">2</text>
<text x="292.90000000000003" y="558.30" font-size="2.6" text-anchor="end" fill="#555">0</text>
<text x="292.90000000000003" y="562.60" font-size="2.6" text-anchor="end" fill="#555">-2</text>
<text x="292.90000000000003" y="566.90" font-size="2.6" text-anchor="end" fill="#555">-4</text>
<text transform="translate(288.3,511.6) rotate(-90)" font-size="2.9" text-anchor="middle" font-weight="bold" fill="#555">Enrichment score (ES)</text>
<text transform="translate(288.3,558.6) rotate(-90)" font-size="2.9" text-anchor="middle" font-weight="bold" fill="#555">Ranked list metric (PreRanked)</text>
<rect x="294.30" y="531.2" width="4.00" height="11.80" fill="#000" fill-opacity="0.59"/>
<rect x="299.74" y="531.2" width="1.92" height="11.80" fill="#000" fill-opacity="0.56"/>
<rect x="301.66" y="531.2" width="3.84" height="11.80" fill="#000" fill-opacity="0.32"/>
<rect x="307.10" y="531.2" width="0.80" height="11.80" fill="#000" fill-opacity="0.39"/>
<rect x="308.70" y="531.2" width="0.80" height="11.80" fill="#000" fill-opacity="0.17"/>
<rect x="318.30" y="531.2" width="1.60" height="11.80" fill="#000" fill-opacity="0.28"/>
<rect x="323.90" y="531.2" width="1.60" height="11.80" fill="#000" fill-opacity="0.42"/>
<rect x="328.70" y="531.2" width="1.60" height="11.80" fill="#000" fill-opacity="0.32"/>
<rect x="333.50" y="531.2" width="0.80" height="11.80" fill="#000" fill-opacity="0.28"/>
<rect x="338.70" y="531.2" width="1.60" height="11.80" fill="#000" fill-opacity="0.24"/>
<rect x="348.70" y="531.2" width="1.60" height="11.80" fill="#000" fill-opacity="0.35"/>
<rect x="354.30" y="531.2" width="0.80" height="11.80" fill="#000" fill-opacity="0.24"/>
<rect x="359.90" y="531.2" width="3.20" height="11.80" fill="#000" fill-opacity="0.24"/>
<rect x="365.50" y="531.2" width="2.40" height="11.80" fill="#000" fill-opacity="0.52"/>
<rect x="368.70" y="531.2" width="3.20" height="11.80" fill="#000" fill-opacity="0.56"/>
<rect x="294.30" y="543.4" width="12.80" height="2.900000000000091" fill="#e8202a"/>
<rect x="307.10" y="543.4" width="45.60" height="2.900000000000091" fill="#f4b8d8"/>
<rect x="352.70" y="543.4" width="14.40" height="2.900000000000091" fill="#c8c8f4"/>
<rect x="367.10" y="543.4" width="4.80" height="2.900000000000091" fill="#3030d8"/>
<text x="296.3" y="548.7" font-size="2.6" fill="#e03030" textLength="26" lengthAdjust="spacingAndGlyphs">'na_pos' (positively correlated)</text>
<text x="335.90000000000003" y="570.0" font-size="2.6" fill="#4040e0" textLength="26" lengthAdjust="spacingAndGlyphs">'na_neg' (negatively correlated)</text>
<path d="M294.3,554.5000000000001 C297.3,555.9000000000001 302.3,556.6 307.90000000000003,556.8000000000001 L294.3,557.1 Z" fill="#aaa" stroke="#999" stroke-width="0.3"/>
<line x1="307.90000000000003" y1="556.8000000000001" x2="351.9" y2="556.8000000000001" stroke="#e2e2e2" stroke-width="0.4"/>
<path d="M351.9,556.8000000000001 L371.8,556.8000000000001 L372.1,568.8 L371.5,559.2 C368.3,558.4000000000001 362.3,557.6 351.9,557.3000000000001 Z" fill="#a8a8a8" stroke="#999" stroke-width="0.3"/>
<text x="299.3" y="560.4000000000001" font-size="2.4" fill="#555" textLength="17" lengthAdjust="spacingAndGlyphs">Zero cross at 18785</text>
<text x="294.30" y="573.6" font-size="2.6" text-anchor="middle" fill="#555">0</text>
<text x="308.59" y="573.6" font-size="2.6" text-anchor="middle" fill="#555">10,000</text>
<text x="322.87" y="573.6" font-size="2.6" text-anchor="middle" fill="#555">20,000</text>
<text x="337.16" y="573.6" font-size="2.6" text-anchor="middle" fill="#555">30,000</text>
<text x="351.44" y="573.6" font-size="2.6" text-anchor="middle" fill="#555">40,000</text>
<text x="365.73" y="573.6" font-size="2.6" text-anchor="middle" fill="#555">50,000</text>
<text x="335.10" y="576.6" font-size="3.0" text-anchor="middle" font-weight="bold" fill="#555">Rank in Ordered Dataset</text>
<rect x="297.7" y="579.7" width="66.60000000000002" height="4.3" fill="#fff" stroke="#aaa" stroke-width="0.5"/>
<line x1="298.7" y1="581.8" x2="301.7" y2="581.8" stroke="#6cd95c" stroke-width="0.8"/>
<text x="302.7" y="582.7" font-size="2.6" fill="#555">Enrichment profile</text>
<text x="321.7" y="582.7" font-size="2.6" fill="#555">— Hits</text>
<text x="335.7" y="582.7" font-size="2.6" fill="#555">— Ranking metric scores</text>
<polyline points="294.50,508.00 295.30,501.40 296.90,498.20 299.40,497.40 302.60,495.70 305.10,496.90 308.30,498.20 357.40,524.70 362.30,527.90 366.40,528.90 368.80,528.40 370.50,526.30 372.10,522.70 372.90,521.10" fill="none" stroke="#6cd95c" stroke-width="1.5" stroke-linejoin="round"/>
<text x="299.4" y="509.5" font-size="9.1" text-anchor="start" font-weight="normal" fill="#2a2a2a" stroke="#2a2a2a" stroke-width="0.22" textLength="73.5" lengthAdjust="spacingAndGlyphs" >Normalized ES 1.195</text>
<text x="299.4" y="518.9" font-size="9.1" text-anchor="start" font-weight="normal" fill="#2a2a2a" stroke="#2a2a2a" stroke-width="0.22" textLength="40.3" lengthAdjust="spacingAndGlyphs" >FDR qvalue</text>
<text x="353.5" y="518.9" font-size="9.1" text-anchor="start" font-weight="normal" fill="#2a2a2a" stroke="#2a2a2a" stroke-width="0.22" textLength="19.4" lengthAdjust="spacingAndGlyphs" >0.148</text>
<rect x="394.2" y="489.1" width="94.60000000000002" height="95.10000000000005" fill="#f1f1f1"/>
<text x="416.5" y="492.6" font-size="3.6" font-weight="bold" fill="#333" textLength="49.0" lengthAdjust="spacingAndGlyphs">Enrichment plot: MA9 DOWN</text>
<rect x="405.7" y="493.8" width="81.50000000000001" height="77.59999999999997" fill="#fff" stroke="#d0d0d0" stroke-width="0.4"/>
<line x1="405.7" y1="497.90" x2="486.0" y2="497.90" stroke="#eeeeee" stroke-width="0.4"/>
<line x1="405.7" y1="502.00" x2="486.0" y2="502.00" stroke="#eeeeee" stroke-width="0.4"/>
<line x1="405.7" y1="506.10" x2="486.0" y2="506.10" stroke="#eeeeee" stroke-width="0.4"/>
<line x1="405.7" y1="510.20" x2="486.0" y2="510.20" stroke="#eeeeee" stroke-width="0.4"/>
<line x1="405.7" y1="514.30" x2="486.0" y2="514.30" stroke="#eeeeee" stroke-width="0.4"/>
<line x1="405.7" y1="518.40" x2="486.0" y2="518.40" stroke="#eeeeee" stroke-width="0.4"/>
<line x1="405.7" y1="522.50" x2="486.0" y2="522.50" stroke="#eeeeee" stroke-width="0.4"/>
<line x1="405.7" y1="526.60" x2="486.0" y2="526.60" stroke="#eeeeee" stroke-width="0.4"/>
<line x1="420.04" y1="493.8" x2="420.04" y2="530.7" stroke="#eeeeee" stroke-width="0.4"/>
<line x1="420.04" y1="546.2" x2="420.04" y2="571.4" stroke="#eeeeee" stroke-width="0.4"/>
<line x1="434.38" y1="493.8" x2="434.38" y2="530.7" stroke="#eeeeee" stroke-width="0.4"/>
<line x1="434.38" y1="546.2" x2="434.38" y2="571.4" stroke="#eeeeee" stroke-width="0.4"/>
<line x1="448.72" y1="493.8" x2="448.72" y2="530.7" stroke="#eeeeee" stroke-width="0.4"/>
<line x1="448.72" y1="546.2" x2="448.72" y2="571.4" stroke="#eeeeee" stroke-width="0.4"/>
<line x1="463.06" y1="493.8" x2="463.06" y2="530.7" stroke="#eeeeee" stroke-width="0.4"/>
<line x1="463.06" y1="546.2" x2="463.06" y2="571.4" stroke="#eeeeee" stroke-width="0.4"/>
<line x1="405.7" y1="530.7" x2="486.0" y2="530.7" stroke="#bbb" stroke-width="0.4"/>
<line x1="405.7" y1="543.4" x2="486.0" y2="543.4" stroke="#bbb" stroke-width="0.4"/>
<text x="404.5" y="496.90" font-size="2.6" text-anchor="end" fill="#555">0.6</text>
<text x="404.5" y="500.96" font-size="2.6" text-anchor="end" fill="#555">0.5</text>
<text x="404.5" y="505.02" font-size="2.6" text-anchor="end" fill="#555">0.4</text>
<text x="404.5" y="509.09" font-size="2.6" text-anchor="end" fill="#555">0.3</text>
<text x="404.5" y="513.15" font-size="2.6" text-anchor="end" fill="#555">0.2</text>
<text x="404.5" y="517.21" font-size="2.6" text-anchor="end" fill="#555">0.1</text>
<text x="404.5" y="521.27" font-size="2.6" text-anchor="end" fill="#555">0.0</text>
<text x="404.5" y="525.34" font-size="2.6" text-anchor="end" fill="#555">-0.1</text>
<text x="404.5" y="529.40" font-size="2.6" text-anchor="end" fill="#555">-0.2</text>
<text x="404.3" y="550.10" font-size="2.6" text-anchor="end" fill="#555">4</text>
<text x="404.3" y="554.40" font-size="2.6" text-anchor="end" fill="#555">2</text>
<text x="404.3" y="558.70" font-size="2.6" text-anchor="end" fill="#555">0</text>
<text x="404.3" y="563.00" font-size="2.6" text-anchor="end" fill="#555">-2</text>
<text x="404.3" y="567.30" font-size="2.6" text-anchor="end" fill="#555">-4</text>
<text transform="translate(399.5,512) rotate(-90)" font-size="2.9" text-anchor="middle" font-weight="bold" fill="#555">Enrichment score (ES)</text>
<text transform="translate(399.5,559) rotate(-90)" font-size="2.9" text-anchor="middle" font-weight="bold" fill="#555">Ranked list metric (PreRanked)</text>
<rect x="405.70" y="531.6" width="2.97" height="11.80" fill="#000" fill-opacity="0.59"/>
<rect x="411.16" y="531.6" width="4.18" height="11.80" fill="#000" fill-opacity="0.35"/>
<rect x="416.94" y="531.6" width="1.61" height="11.80" fill="#000" fill-opacity="0.32"/>
<rect x="425.77" y="531.6" width="1.61" height="11.80" fill="#000" fill-opacity="0.28"/>
<rect x="428.99" y="531.6" width="0.80" height="11.80" fill="#000" fill-opacity="0.24"/>
<rect x="433.81" y="531.6" width="0.80" height="11.80" fill="#000" fill-opacity="0.21"/>
<rect x="444.65" y="531.6" width="1.61" height="11.80" fill="#000" fill-opacity="0.28"/>
<rect x="447.86" y="531.6" width="0.80" height="11.80" fill="#000" fill-opacity="0.24"/>
<rect x="467.53" y="531.6" width="1.61" height="11.80" fill="#000" fill-opacity="0.49"/>
<rect x="472.35" y="531.6" width="1.61" height="11.80" fill="#000" fill-opacity="0.28"/>
<rect x="475.56" y="531.6" width="1.61" height="11.80" fill="#000" fill-opacity="0.49"/>
<rect x="477.97" y="531.6" width="3.21" height="11.80" fill="#000" fill-opacity="0.49"/>
<rect x="405.70" y="543.8" width="12.85" height="2.900000000000091" fill="#e8202a"/>
<rect x="418.55" y="543.8" width="46.17" height="2.900000000000091" fill="#f4b8d8"/>
<rect x="464.72" y="543.8" width="13.25" height="2.900000000000091" fill="#c8c8f4"/>
<rect x="477.97" y="543.8" width="4.82" height="2.900000000000091" fill="#3030d8"/>
<text x="407.7" y="549.1" font-size="2.6" fill="#e03030" textLength="26" lengthAdjust="spacingAndGlyphs">'na_pos' (positively correlated)</text>
<text x="447.456" y="570.4" font-size="2.6" fill="#4040e0" textLength="26" lengthAdjust="spacingAndGlyphs">'na_neg' (negatively correlated)</text>
<path d="M405.7,554.9000000000001 C408.7,556.3000000000001 413.7,557.0 419.351,557.2 L405.7,557.5 Z" fill="#aaa" stroke="#999" stroke-width="0.3"/>
<line x1="419.351" y1="557.2" x2="463.51599999999996" y2="557.2" stroke="#e2e2e2" stroke-width="0.4"/>
<path d="M463.51599999999996,557.2 L483.5,557.2 L483.8,569.1999999999999 L483.2,559.6 C480.0,558.8000000000001 473.955,558.0 463.51599999999996,557.7 Z" fill="#a8a8a8" stroke="#999" stroke-width="0.3"/>
<text x="410.7" y="560.8000000000001" font-size="2.4" fill="#555" textLength="17" lengthAdjust="spacingAndGlyphs">Zero cross at 18785</text>
<text x="405.70" y="574.0" font-size="2.6" text-anchor="middle" fill="#555">0</text>
<text x="420.04" y="574.0" font-size="2.6" text-anchor="middle" fill="#555">10,000</text>
<text x="434.38" y="574.0" font-size="2.6" text-anchor="middle" fill="#555">20,000</text>
<text x="448.72" y="574.0" font-size="2.6" text-anchor="middle" fill="#555">30,000</text>
<text x="463.06" y="574.0" font-size="2.6" text-anchor="middle" fill="#555">40,000</text>
<text x="477.40" y="574.0" font-size="2.6" text-anchor="middle" fill="#555">50,000</text>
<text x="446.65" y="577.0" font-size="3.0" text-anchor="middle" font-weight="bold" fill="#555">Rank in Ordered Dataset</text>
<rect x="408.9" y="579.9000000000001" width="66.60000000000002" height="4.3" fill="#fff" stroke="#aaa" stroke-width="0.5"/>
<line x1="409.9" y1="582.0" x2="412.9" y2="582.0" stroke="#6cd95c" stroke-width="0.8"/>
<text x="413.9" y="582.9000000000001" font-size="2.6" fill="#555">Enrichment profile</text>
<text x="432.9" y="582.9000000000001" font-size="2.6" fill="#555">— Hits</text>
<text x="446.9" y="582.9000000000001" font-size="2.6" fill="#555">— Ranking metric scores</text>
<polyline points="405.90,517.80 406.60,508.00 407.90,499.80 409.20,496.20 411.20,496.90 414.40,496.90 417.70,497.80 468.40,526.00 473.30,528.90 475.70,529.20 478.20,527.60 479.80,525.10 481.10,522.70 483.10,523.50" fill="none" stroke="#6cd95c" stroke-width="1.5" stroke-linejoin="round"/>
<text x="410.4" y="509.9" font-size="9.1" text-anchor="start" font-weight="normal" fill="#2a2a2a" stroke="#2a2a2a" stroke-width="0.22" textLength="73.5" lengthAdjust="spacingAndGlyphs" >Normalized ES 1.243</text>
<text x="410.4" y="519.3" font-size="9.1" text-anchor="start" font-weight="normal" fill="#2a2a2a" stroke="#2a2a2a" stroke-width="0.22" textLength="40.3" lengthAdjust="spacingAndGlyphs" >FDR qvalue</text>
<text x="464.5" y="519.3" font-size="9.1" text-anchor="start" font-weight="normal" fill="#2a2a2a" stroke="#2a2a2a" stroke-width="0.22" textLength="19.4" lengthAdjust="spacingAndGlyphs" >0.154</text>
<rect x="0.6" y="0.6" width="518.8" height="591.8" fill="none" stroke="#000" stroke-width="1.2"/>
</svg></body></html>
